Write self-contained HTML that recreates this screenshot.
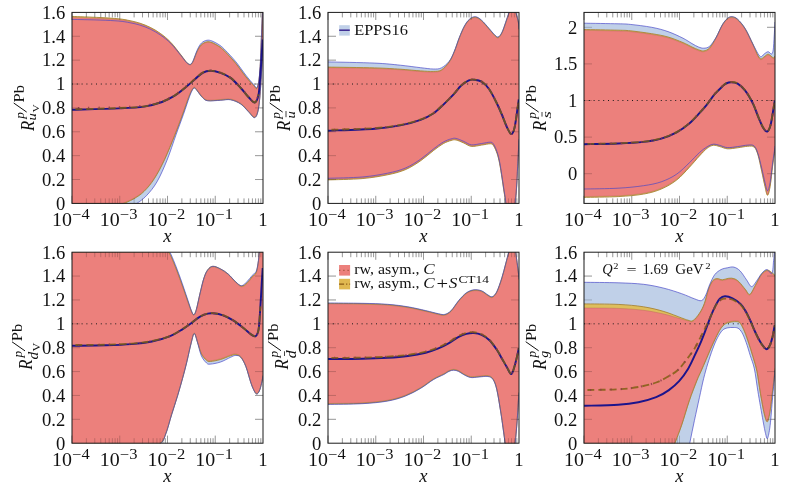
<!DOCTYPE html>
<html><head><meta charset="utf-8"><title>chart</title>
<style>
html,body{margin:0;padding:0;background:#fff;}
body{width:788px;height:488px;overflow:hidden;position:relative;font-family:"Liberation Serif",serif;}
svg text{font-family:"Liberation Serif",serif;fill:#111;}
.t{font-size:18.6px;}
.ti{font-size:18.6px;font-style:italic;}
.s{}
</style></head><body>
<svg width="788" height="488" viewBox="0 0 788 488" style="position:absolute;left:0;top:0;will-change:transform">
<defs>
<clipPath id="c0"><rect x="72.00" y="12.40" width="191.00" height="191.00"/></clipPath>
<clipPath id="c1"><rect x="328.00" y="12.40" width="191.00" height="191.00"/></clipPath>
<clipPath id="c2"><rect x="584.00" y="12.40" width="191.00" height="191.00"/></clipPath>
<clipPath id="c3"><rect x="72.00" y="252.20" width="191.00" height="191.00"/></clipPath>
<clipPath id="c4"><rect x="328.00" y="252.20" width="191.00" height="191.00"/></clipPath>
<clipPath id="c5"><rect x="584.00" y="252.20" width="191.00" height="191.00"/></clipPath>
</defs>
<rect width="788" height="488" fill="#fff"/>
<path d="M72.00 12.40v7.60 M72.00 203.40v-7.60 M86.37 12.40v5.00 M86.37 203.40v-5.00 M94.78 12.40v5.00 M94.78 203.40v-5.00 M100.75 12.40v5.00 M100.75 203.40v-5.00 M105.38 12.40v5.00 M105.38 203.40v-5.00 M109.16 12.40v5.00 M109.16 203.40v-5.00 M112.35 12.40v5.00 M112.35 203.40v-5.00 M115.12 12.40v5.00 M115.12 203.40v-5.00 M117.57 12.40v5.00 M117.57 203.40v-5.00 M119.75 12.40v7.60 M119.75 203.40v-7.60 M134.12 12.40v5.00 M134.12 203.40v-5.00 M142.53 12.40v5.00 M142.53 203.40v-5.00 M148.50 12.40v5.00 M148.50 203.40v-5.00 M153.13 12.40v5.00 M153.13 203.40v-5.00 M156.91 12.40v5.00 M156.91 203.40v-5.00 M160.10 12.40v5.00 M160.10 203.40v-5.00 M162.87 12.40v5.00 M162.87 203.40v-5.00 M165.32 12.40v5.00 M165.32 203.40v-5.00 M167.50 12.40v7.60 M167.50 203.40v-7.60 M181.87 12.40v5.00 M181.87 203.40v-5.00 M190.28 12.40v5.00 M190.28 203.40v-5.00 M196.25 12.40v5.00 M196.25 203.40v-5.00 M200.88 12.40v5.00 M200.88 203.40v-5.00 M204.66 12.40v5.00 M204.66 203.40v-5.00 M207.85 12.40v5.00 M207.85 203.40v-5.00 M210.62 12.40v5.00 M210.62 203.40v-5.00 M213.07 12.40v5.00 M213.07 203.40v-5.00 M215.25 12.40v7.60 M215.25 203.40v-7.60 M229.62 12.40v5.00 M229.62 203.40v-5.00 M238.03 12.40v5.00 M238.03 203.40v-5.00 M244.00 12.40v5.00 M244.00 203.40v-5.00 M248.63 12.40v5.00 M248.63 203.40v-5.00 M252.41 12.40v5.00 M252.41 203.40v-5.00 M255.60 12.40v5.00 M255.60 203.40v-5.00 M258.37 12.40v5.00 M258.37 203.40v-5.00 M260.82 12.40v5.00 M260.82 203.40v-5.00 M72.00 36.27h8 M263.00 36.27h-8 M72.00 60.15h8 M263.00 60.15h-8 M72.00 84.03h8 M263.00 84.03h-8 M72.00 107.90h8 M263.00 107.90h-8 M72.00 131.78h8 M263.00 131.78h-8 M72.00 155.65h8 M263.00 155.65h-8 M72.00 179.53h8 M263.00 179.53h-8" stroke="#000" stroke-opacity="0.36" stroke-width="0.7" fill="none"/>
<path d="M328.00 12.40v7.60 M328.00 203.40v-7.60 M342.37 12.40v5.00 M342.37 203.40v-5.00 M350.78 12.40v5.00 M350.78 203.40v-5.00 M356.75 12.40v5.00 M356.75 203.40v-5.00 M361.38 12.40v5.00 M361.38 203.40v-5.00 M365.16 12.40v5.00 M365.16 203.40v-5.00 M368.35 12.40v5.00 M368.35 203.40v-5.00 M371.12 12.40v5.00 M371.12 203.40v-5.00 M373.57 12.40v5.00 M373.57 203.40v-5.00 M375.75 12.40v7.60 M375.75 203.40v-7.60 M390.12 12.40v5.00 M390.12 203.40v-5.00 M398.53 12.40v5.00 M398.53 203.40v-5.00 M404.50 12.40v5.00 M404.50 203.40v-5.00 M409.13 12.40v5.00 M409.13 203.40v-5.00 M412.91 12.40v5.00 M412.91 203.40v-5.00 M416.10 12.40v5.00 M416.10 203.40v-5.00 M418.87 12.40v5.00 M418.87 203.40v-5.00 M421.32 12.40v5.00 M421.32 203.40v-5.00 M423.50 12.40v7.60 M423.50 203.40v-7.60 M437.87 12.40v5.00 M437.87 203.40v-5.00 M446.28 12.40v5.00 M446.28 203.40v-5.00 M452.25 12.40v5.00 M452.25 203.40v-5.00 M456.88 12.40v5.00 M456.88 203.40v-5.00 M460.66 12.40v5.00 M460.66 203.40v-5.00 M463.85 12.40v5.00 M463.85 203.40v-5.00 M466.62 12.40v5.00 M466.62 203.40v-5.00 M469.07 12.40v5.00 M469.07 203.40v-5.00 M471.25 12.40v7.60 M471.25 203.40v-7.60 M485.62 12.40v5.00 M485.62 203.40v-5.00 M494.03 12.40v5.00 M494.03 203.40v-5.00 M500.00 12.40v5.00 M500.00 203.40v-5.00 M504.63 12.40v5.00 M504.63 203.40v-5.00 M508.41 12.40v5.00 M508.41 203.40v-5.00 M511.60 12.40v5.00 M511.60 203.40v-5.00 M514.37 12.40v5.00 M514.37 203.40v-5.00 M516.82 12.40v5.00 M516.82 203.40v-5.00 M328.00 36.27h8 M519.00 36.27h-8 M328.00 60.15h8 M519.00 60.15h-8 M328.00 84.03h8 M519.00 84.03h-8 M328.00 107.90h8 M519.00 107.90h-8 M328.00 131.78h8 M519.00 131.78h-8 M328.00 155.65h8 M519.00 155.65h-8 M328.00 179.53h8 M519.00 179.53h-8" stroke="#000" stroke-opacity="0.36" stroke-width="0.7" fill="none"/>
<path d="M584.00 12.40v7.60 M584.00 203.40v-7.60 M598.37 12.40v5.00 M598.37 203.40v-5.00 M606.78 12.40v5.00 M606.78 203.40v-5.00 M612.75 12.40v5.00 M612.75 203.40v-5.00 M617.38 12.40v5.00 M617.38 203.40v-5.00 M621.16 12.40v5.00 M621.16 203.40v-5.00 M624.35 12.40v5.00 M624.35 203.40v-5.00 M627.12 12.40v5.00 M627.12 203.40v-5.00 M629.57 12.40v5.00 M629.57 203.40v-5.00 M631.75 12.40v7.60 M631.75 203.40v-7.60 M646.12 12.40v5.00 M646.12 203.40v-5.00 M654.53 12.40v5.00 M654.53 203.40v-5.00 M660.50 12.40v5.00 M660.50 203.40v-5.00 M665.13 12.40v5.00 M665.13 203.40v-5.00 M668.91 12.40v5.00 M668.91 203.40v-5.00 M672.10 12.40v5.00 M672.10 203.40v-5.00 M674.87 12.40v5.00 M674.87 203.40v-5.00 M677.32 12.40v5.00 M677.32 203.40v-5.00 M679.50 12.40v7.60 M679.50 203.40v-7.60 M693.87 12.40v5.00 M693.87 203.40v-5.00 M702.28 12.40v5.00 M702.28 203.40v-5.00 M708.25 12.40v5.00 M708.25 203.40v-5.00 M712.88 12.40v5.00 M712.88 203.40v-5.00 M716.66 12.40v5.00 M716.66 203.40v-5.00 M719.85 12.40v5.00 M719.85 203.40v-5.00 M722.62 12.40v5.00 M722.62 203.40v-5.00 M725.07 12.40v5.00 M725.07 203.40v-5.00 M727.25 12.40v7.60 M727.25 203.40v-7.60 M741.62 12.40v5.00 M741.62 203.40v-5.00 M750.03 12.40v5.00 M750.03 203.40v-5.00 M756.00 12.40v5.00 M756.00 203.40v-5.00 M760.63 12.40v5.00 M760.63 203.40v-5.00 M764.41 12.40v5.00 M764.41 203.40v-5.00 M767.60 12.40v5.00 M767.60 203.40v-5.00 M770.37 12.40v5.00 M770.37 203.40v-5.00 M772.82 12.40v5.00 M772.82 203.40v-5.00 M584.00 27.30h8 M775.00 27.30h-8 M584.00 63.90h8 M775.00 63.90h-8 M584.00 100.50h8 M775.00 100.50h-8 M584.00 137.10h8 M775.00 137.10h-8 M584.00 173.70h8 M775.00 173.70h-8" stroke="#000" stroke-opacity="0.36" stroke-width="0.7" fill="none"/>
<path d="M72.00 252.20v7.60 M72.00 443.20v-7.60 M86.37 252.20v5.00 M86.37 443.20v-5.00 M94.78 252.20v5.00 M94.78 443.20v-5.00 M100.75 252.20v5.00 M100.75 443.20v-5.00 M105.38 252.20v5.00 M105.38 443.20v-5.00 M109.16 252.20v5.00 M109.16 443.20v-5.00 M112.35 252.20v5.00 M112.35 443.20v-5.00 M115.12 252.20v5.00 M115.12 443.20v-5.00 M117.57 252.20v5.00 M117.57 443.20v-5.00 M119.75 252.20v7.60 M119.75 443.20v-7.60 M134.12 252.20v5.00 M134.12 443.20v-5.00 M142.53 252.20v5.00 M142.53 443.20v-5.00 M148.50 252.20v5.00 M148.50 443.20v-5.00 M153.13 252.20v5.00 M153.13 443.20v-5.00 M156.91 252.20v5.00 M156.91 443.20v-5.00 M160.10 252.20v5.00 M160.10 443.20v-5.00 M162.87 252.20v5.00 M162.87 443.20v-5.00 M165.32 252.20v5.00 M165.32 443.20v-5.00 M167.50 252.20v7.60 M167.50 443.20v-7.60 M181.87 252.20v5.00 M181.87 443.20v-5.00 M190.28 252.20v5.00 M190.28 443.20v-5.00 M196.25 252.20v5.00 M196.25 443.20v-5.00 M200.88 252.20v5.00 M200.88 443.20v-5.00 M204.66 252.20v5.00 M204.66 443.20v-5.00 M207.85 252.20v5.00 M207.85 443.20v-5.00 M210.62 252.20v5.00 M210.62 443.20v-5.00 M213.07 252.20v5.00 M213.07 443.20v-5.00 M215.25 252.20v7.60 M215.25 443.20v-7.60 M229.62 252.20v5.00 M229.62 443.20v-5.00 M238.03 252.20v5.00 M238.03 443.20v-5.00 M244.00 252.20v5.00 M244.00 443.20v-5.00 M248.63 252.20v5.00 M248.63 443.20v-5.00 M252.41 252.20v5.00 M252.41 443.20v-5.00 M255.60 252.20v5.00 M255.60 443.20v-5.00 M258.37 252.20v5.00 M258.37 443.20v-5.00 M260.82 252.20v5.00 M260.82 443.20v-5.00 M72.00 276.07h8 M263.00 276.07h-8 M72.00 299.95h8 M263.00 299.95h-8 M72.00 323.82h8 M263.00 323.82h-8 M72.00 347.70h8 M263.00 347.70h-8 M72.00 371.57h8 M263.00 371.57h-8 M72.00 395.45h8 M263.00 395.45h-8 M72.00 419.32h8 M263.00 419.32h-8" stroke="#000" stroke-opacity="0.36" stroke-width="0.7" fill="none"/>
<path d="M328.00 252.20v7.60 M328.00 443.20v-7.60 M342.37 252.20v5.00 M342.37 443.20v-5.00 M350.78 252.20v5.00 M350.78 443.20v-5.00 M356.75 252.20v5.00 M356.75 443.20v-5.00 M361.38 252.20v5.00 M361.38 443.20v-5.00 M365.16 252.20v5.00 M365.16 443.20v-5.00 M368.35 252.20v5.00 M368.35 443.20v-5.00 M371.12 252.20v5.00 M371.12 443.20v-5.00 M373.57 252.20v5.00 M373.57 443.20v-5.00 M375.75 252.20v7.60 M375.75 443.20v-7.60 M390.12 252.20v5.00 M390.12 443.20v-5.00 M398.53 252.20v5.00 M398.53 443.20v-5.00 M404.50 252.20v5.00 M404.50 443.20v-5.00 M409.13 252.20v5.00 M409.13 443.20v-5.00 M412.91 252.20v5.00 M412.91 443.20v-5.00 M416.10 252.20v5.00 M416.10 443.20v-5.00 M418.87 252.20v5.00 M418.87 443.20v-5.00 M421.32 252.20v5.00 M421.32 443.20v-5.00 M423.50 252.20v7.60 M423.50 443.20v-7.60 M437.87 252.20v5.00 M437.87 443.20v-5.00 M446.28 252.20v5.00 M446.28 443.20v-5.00 M452.25 252.20v5.00 M452.25 443.20v-5.00 M456.88 252.20v5.00 M456.88 443.20v-5.00 M460.66 252.20v5.00 M460.66 443.20v-5.00 M463.85 252.20v5.00 M463.85 443.20v-5.00 M466.62 252.20v5.00 M466.62 443.20v-5.00 M469.07 252.20v5.00 M469.07 443.20v-5.00 M471.25 252.20v7.60 M471.25 443.20v-7.60 M485.62 252.20v5.00 M485.62 443.20v-5.00 M494.03 252.20v5.00 M494.03 443.20v-5.00 M500.00 252.20v5.00 M500.00 443.20v-5.00 M504.63 252.20v5.00 M504.63 443.20v-5.00 M508.41 252.20v5.00 M508.41 443.20v-5.00 M511.60 252.20v5.00 M511.60 443.20v-5.00 M514.37 252.20v5.00 M514.37 443.20v-5.00 M516.82 252.20v5.00 M516.82 443.20v-5.00 M328.00 276.07h8 M519.00 276.07h-8 M328.00 299.95h8 M519.00 299.95h-8 M328.00 323.82h8 M519.00 323.82h-8 M328.00 347.70h8 M519.00 347.70h-8 M328.00 371.57h8 M519.00 371.57h-8 M328.00 395.45h8 M519.00 395.45h-8 M328.00 419.32h8 M519.00 419.32h-8" stroke="#000" stroke-opacity="0.36" stroke-width="0.7" fill="none"/>
<path d="M584.00 252.20v7.60 M584.00 443.20v-7.60 M598.37 252.20v5.00 M598.37 443.20v-5.00 M606.78 252.20v5.00 M606.78 443.20v-5.00 M612.75 252.20v5.00 M612.75 443.20v-5.00 M617.38 252.20v5.00 M617.38 443.20v-5.00 M621.16 252.20v5.00 M621.16 443.20v-5.00 M624.35 252.20v5.00 M624.35 443.20v-5.00 M627.12 252.20v5.00 M627.12 443.20v-5.00 M629.57 252.20v5.00 M629.57 443.20v-5.00 M631.75 252.20v7.60 M631.75 443.20v-7.60 M646.12 252.20v5.00 M646.12 443.20v-5.00 M654.53 252.20v5.00 M654.53 443.20v-5.00 M660.50 252.20v5.00 M660.50 443.20v-5.00 M665.13 252.20v5.00 M665.13 443.20v-5.00 M668.91 252.20v5.00 M668.91 443.20v-5.00 M672.10 252.20v5.00 M672.10 443.20v-5.00 M674.87 252.20v5.00 M674.87 443.20v-5.00 M677.32 252.20v5.00 M677.32 443.20v-5.00 M679.50 252.20v7.60 M679.50 443.20v-7.60 M693.87 252.20v5.00 M693.87 443.20v-5.00 M702.28 252.20v5.00 M702.28 443.20v-5.00 M708.25 252.20v5.00 M708.25 443.20v-5.00 M712.88 252.20v5.00 M712.88 443.20v-5.00 M716.66 252.20v5.00 M716.66 443.20v-5.00 M719.85 252.20v5.00 M719.85 443.20v-5.00 M722.62 252.20v5.00 M722.62 443.20v-5.00 M725.07 252.20v5.00 M725.07 443.20v-5.00 M727.25 252.20v7.60 M727.25 443.20v-7.60 M741.62 252.20v5.00 M741.62 443.20v-5.00 M750.03 252.20v5.00 M750.03 443.20v-5.00 M756.00 252.20v5.00 M756.00 443.20v-5.00 M760.63 252.20v5.00 M760.63 443.20v-5.00 M764.41 252.20v5.00 M764.41 443.20v-5.00 M767.60 252.20v5.00 M767.60 443.20v-5.00 M770.37 252.20v5.00 M770.37 443.20v-5.00 M772.82 252.20v5.00 M772.82 443.20v-5.00 M584.00 276.07h8 M775.00 276.07h-8 M584.00 299.95h8 M775.00 299.95h-8 M584.00 323.82h8 M775.00 323.82h-8 M584.00 347.70h8 M775.00 347.70h-8 M584.00 371.57h8 M775.00 371.57h-8 M584.00 395.45h8 M775.00 395.45h-8 M584.00 419.32h8 M775.00 419.32h-8" stroke="#000" stroke-opacity="0.36" stroke-width="0.7" fill="none"/>
<g clip-path="url(#c0)">
<path d="M72.00 19.40 C76.67 19.51 92.20 19.80 100.00 20.08 C107.80 20.36 113.80 20.63 118.80 21.07 C123.80 21.51 126.47 22.06 130.00 22.74 C133.53 23.42 136.63 24.07 140.00 25.13 C143.37 26.19 146.78 27.45 150.20 29.11 C153.62 30.77 157.08 32.70 160.50 35.08 C163.92 37.46 167.28 39.94 170.70 43.37 C174.12 46.80 178.43 52.54 181.00 55.66 C183.57 58.78 184.83 60.69 186.10 62.07 C187.37 63.46 187.88 63.60 188.60 63.99 C189.32 64.37 189.83 64.58 190.40 64.38 C190.97 64.18 191.47 63.60 192.00 62.80 C192.53 62.00 192.70 61.76 193.60 59.56 C194.50 57.36 196.08 52.35 197.40 49.59 C198.72 46.83 199.93 44.55 201.50 43.00 C203.07 41.45 205.05 40.63 206.80 40.30 C208.55 39.97 209.80 40.15 212.00 41.00 C214.20 41.85 217.75 43.83 220.00 45.40 C222.25 46.97 222.88 47.70 225.50 50.40 C228.12 53.10 232.30 57.45 235.70 61.60 C239.10 65.75 242.93 71.50 245.90 75.28 C248.87 79.06 251.60 82.32 253.50 84.27 C255.40 86.23 256.23 89.30 257.30 87.00 C258.37 84.70 259.18 79.60 259.90 70.50 C260.62 61.40 261.08 44.32 261.60 32.40 C262.12 20.48 262.77 4.57 263.00 -1.00 L263.00 40.80 C262.68 47.30 261.83 68.63 261.10 79.80 C260.37 90.97 259.65 101.50 258.60 107.80 C257.55 114.10 256.50 116.95 254.80 117.60 C253.10 118.25 250.73 113.95 248.40 111.70 C246.07 109.45 243.77 106.08 240.80 104.10 C237.83 102.12 233.98 100.43 230.60 99.80 C227.22 99.17 224.30 100.13 220.50 100.30 C216.70 100.47 210.77 101.22 207.80 100.80 C204.83 100.38 204.40 99.37 202.70 97.80 C201.00 96.23 198.72 92.82 197.60 91.40 C196.48 89.98 196.55 89.87 196.00 89.30 C195.45 88.73 194.88 87.92 194.30 88.00 C193.72 88.08 193.30 88.35 192.50 89.80 C191.70 91.25 191.02 92.58 189.50 96.70 C187.98 100.82 185.65 108.15 183.40 114.50 C181.15 120.85 178.73 127.18 176.00 134.80 C173.27 142.42 170.17 152.37 167.00 160.20 C163.83 168.03 160.45 175.87 157.00 181.80 C153.55 187.73 150.05 191.93 146.30 195.80 C142.55 199.67 140.55 200.97 134.50 205.00 C128.45 209.03 120.42 215.50 110.00 220.00 C99.58 224.50 78.33 230.00 72.00 232.00 Z" fill="#c0d0e8"/>
<path d="M72.00 16.40 C76.67 16.59 92.20 17.13 100.00 17.53 C107.80 17.93 113.80 18.30 118.80 18.82 C123.80 19.34 126.47 19.94 130.00 20.67 C133.53 21.41 136.63 22.10 140.00 23.22 C143.37 24.33 146.78 25.65 150.20 27.37 C153.62 29.08 157.08 31.03 160.50 33.51 C163.92 36.00 167.28 38.68 170.70 42.26 C174.12 45.85 178.43 51.77 181.00 55.01 C183.57 58.26 184.83 60.25 186.10 61.73 C187.37 63.22 187.88 63.48 188.60 63.95 C189.32 64.42 189.83 64.69 190.40 64.56 C190.97 64.42 191.47 63.89 192.00 63.16 C192.53 62.43 192.70 62.23 193.60 60.17 C194.50 58.11 196.08 53.38 197.40 50.79 C198.72 48.19 199.93 46.08 201.50 44.60 C203.07 43.12 205.05 42.23 206.80 41.90 C208.55 41.57 209.80 41.75 212.00 42.60 C214.20 43.45 217.75 45.43 220.00 47.00 C222.25 48.57 222.88 49.30 225.50 52.00 C228.12 54.70 232.30 59.07 235.70 63.20 C239.10 67.33 242.93 73.15 245.90 76.80 C248.87 80.45 251.60 83.30 253.50 85.10 C255.40 86.90 256.23 89.93 257.30 87.60 C258.37 85.27 259.18 80.20 259.90 71.10 C260.62 62.00 261.08 44.92 261.60 33.00 C262.12 21.08 262.77 5.17 263.00 -0.40 L263.00 40.60 C262.68 47.10 261.83 68.43 261.10 79.60 C260.37 90.77 259.65 101.30 258.60 107.60 C257.55 113.90 256.50 116.75 254.80 117.40 C253.10 118.05 250.73 113.75 248.40 111.50 C246.07 109.25 243.77 105.88 240.80 103.90 C237.83 101.92 233.98 100.23 230.60 99.60 C227.22 98.97 224.30 99.93 220.50 100.10 C216.70 100.27 210.77 101.02 207.80 100.60 C204.83 100.18 204.40 99.17 202.70 97.60 C201.00 96.03 198.72 92.62 197.60 91.20 C196.48 89.78 196.55 89.67 196.00 89.10 C195.45 88.53 194.97 87.63 194.30 87.80 C193.63 87.97 192.93 88.52 192.00 90.10 C191.07 91.68 190.30 93.13 188.70 97.30 C187.10 101.47 184.73 108.75 182.40 115.10 C180.07 121.45 177.67 127.98 174.70 135.40 C171.73 142.82 167.98 152.40 164.60 159.60 C161.22 166.80 157.80 173.32 154.40 178.60 C151.00 183.88 147.68 187.90 144.20 191.30 C140.72 194.70 137.62 196.68 133.50 199.00 C129.38 201.32 125.08 203.02 119.50 205.20 C113.92 207.38 107.92 210.20 100.00 212.10 C92.08 214.00 76.67 215.85 72.00 216.60 Z" fill="#debe5c"/>
<path d="M72.00 17.40 C76.67 17.57 92.20 18.03 100.00 18.40 C107.80 18.77 113.80 19.10 118.80 19.60 C123.80 20.10 126.47 20.68 130.00 21.40 C133.53 22.12 136.63 22.80 140.00 23.90 C143.37 25.00 146.78 26.30 150.20 28.00 C153.62 29.70 157.08 31.63 160.50 34.10 C163.92 36.57 167.28 39.23 170.70 42.80 C174.12 46.37 178.43 52.27 181.00 55.50 C183.57 58.73 184.83 60.72 186.10 62.20 C187.37 63.68 187.88 63.93 188.60 64.40 C189.32 64.87 189.83 65.13 190.40 65.00 C190.97 64.87 191.47 64.33 192.00 63.60 C192.53 62.87 192.70 62.67 193.60 60.60 C194.50 58.53 196.08 53.80 197.40 51.20 C198.72 48.60 199.93 46.48 201.50 45.00 C203.07 43.52 205.05 42.63 206.80 42.30 C208.55 41.97 209.80 42.15 212.00 43.00 C214.20 43.85 217.75 45.83 220.00 47.40 C222.25 48.97 222.88 49.70 225.50 52.40 C228.12 55.10 232.30 59.47 235.70 63.60 C239.10 67.73 242.93 73.55 245.90 77.20 C248.87 80.85 251.60 83.70 253.50 85.50 C255.40 87.30 256.23 90.33 257.30 88.00 C258.37 85.67 259.18 80.60 259.90 71.50 C260.62 62.40 261.08 45.32 261.60 33.40 C262.12 21.48 262.77 5.57 263.00 0.00 L263.00 40.00 C262.68 46.50 261.83 67.83 261.10 79.00 C260.37 90.17 259.65 100.70 258.60 107.00 C257.55 113.30 256.50 116.15 254.80 116.80 C253.10 117.45 250.73 113.15 248.40 110.90 C246.07 108.65 243.77 105.28 240.80 103.30 C237.83 101.32 233.98 99.63 230.60 99.00 C227.22 98.37 224.30 99.33 220.50 99.50 C216.70 99.67 210.77 100.42 207.80 100.00 C204.83 99.58 204.40 98.57 202.70 97.00 C201.00 95.43 198.72 92.02 197.60 90.60 C196.48 89.18 196.55 89.07 196.00 88.50 C195.45 87.93 194.97 87.03 194.30 87.20 C193.63 87.37 192.93 87.92 192.00 89.50 C191.07 91.08 190.30 92.53 188.70 96.70 C187.10 100.87 184.73 108.15 182.40 114.50 C180.07 120.85 177.67 127.38 174.70 134.80 C171.73 142.22 167.98 151.80 164.60 159.00 C161.22 166.20 157.80 172.72 154.40 178.00 C151.00 183.28 147.68 187.30 144.20 190.70 C140.72 194.10 137.62 196.08 133.50 198.40 C129.38 200.72 125.08 202.42 119.50 204.60 C113.92 206.78 107.92 209.60 100.00 211.50 C92.08 213.40 76.67 215.25 72.00 216.00 Z" fill="#ec807c"/>
<line x1="72.00" y1="84.03" x2="263.00" y2="84.03" stroke="#1a1a1a" stroke-width="1.0" stroke-dasharray="1.0 3.8"/>
<path d="M72.00 17.40 C76.67 17.57 92.20 18.03 100.00 18.40 C107.80 18.77 113.80 19.10 118.80 19.60 C123.80 20.10 126.47 20.68 130.00 21.40 C133.53 22.12 136.63 22.80 140.00 23.90 C143.37 25.00 146.78 26.30 150.20 28.00 C153.62 29.70 157.08 31.63 160.50 34.10 C163.92 36.57 167.28 39.23 170.70 42.80 C174.12 46.37 178.43 52.27 181.00 55.50 C183.57 58.73 184.83 60.72 186.10 62.20 C187.37 63.68 187.88 63.93 188.60 64.40 C189.32 64.87 189.83 65.13 190.40 65.00 C190.97 64.87 191.47 64.33 192.00 63.60 C192.53 62.87 192.70 62.67 193.60 60.60 C194.50 58.53 196.08 53.80 197.40 51.20 C198.72 48.60 199.93 46.48 201.50 45.00 C203.07 43.52 205.05 42.63 206.80 42.30 C208.55 41.97 209.80 42.15 212.00 43.00 C214.20 43.85 217.75 45.83 220.00 47.40 C222.25 48.97 222.88 49.70 225.50 52.40 C228.12 55.10 232.30 59.47 235.70 63.60 C239.10 67.73 242.93 73.55 245.90 77.20 C248.87 80.85 251.60 83.70 253.50 85.50 C255.40 87.30 256.23 90.33 257.30 88.00 C258.37 85.67 259.18 80.60 259.90 71.50 C260.62 62.40 261.08 45.32 261.60 33.40 C262.12 21.48 262.77 5.57 263.00 0.00" fill="none" stroke="#b8645c" stroke-width="0.60" stroke-opacity="0.70"/>
<path d="M72.00 216.00 C76.67 215.25 92.08 213.40 100.00 211.50 C107.92 209.60 113.92 206.78 119.50 204.60 C125.08 202.42 129.38 200.72 133.50 198.40 C137.62 196.08 140.72 194.10 144.20 190.70 C147.68 187.30 151.00 183.28 154.40 178.00 C157.80 172.72 161.22 166.20 164.60 159.00 C167.98 151.80 171.73 142.22 174.70 134.80 C177.67 127.38 180.07 120.85 182.40 114.50 C184.73 108.15 187.10 100.87 188.70 96.70 C190.30 92.53 191.07 91.08 192.00 89.50 C192.93 87.92 193.63 87.37 194.30 87.20 C194.97 87.03 195.45 87.93 196.00 88.50 C196.55 89.07 196.48 89.18 197.60 90.60 C198.72 92.02 201.00 95.43 202.70 97.00 C204.40 98.57 204.83 99.58 207.80 100.00 C210.77 100.42 216.70 99.67 220.50 99.50 C224.30 99.33 227.22 98.37 230.60 99.00 C233.98 99.63 237.83 101.32 240.80 103.30 C243.77 105.28 246.07 108.65 248.40 110.90 C250.73 113.15 253.10 117.45 254.80 116.80 C256.50 116.15 257.55 113.30 258.60 107.00 C259.65 100.70 260.37 90.17 261.10 79.00 C261.83 67.83 262.68 46.50 263.00 40.00" fill="none" stroke="#b8645c" stroke-width="0.60" stroke-opacity="0.70"/>
<path d="M72.00 16.40 C76.67 16.59 92.20 17.13 100.00 17.53 C107.80 17.93 113.80 18.30 118.80 18.82 C123.80 19.34 126.47 19.94 130.00 20.67 C133.53 21.41 136.63 22.10 140.00 23.22 C143.37 24.33 146.78 25.65 150.20 27.37 C153.62 29.08 157.08 31.03 160.50 33.51 C163.92 36.00 167.28 38.68 170.70 42.26 C174.12 45.85 178.43 51.77 181.00 55.01 C183.57 58.26 184.83 60.25 186.10 61.73 C187.37 63.22 187.88 63.48 188.60 63.95 C189.32 64.42 189.83 64.69 190.40 64.56 C190.97 64.42 191.47 63.89 192.00 63.16 C192.53 62.43 192.70 62.23 193.60 60.17 C194.50 58.11 196.08 53.38 197.40 50.79 C198.72 48.19 199.93 46.08 201.50 44.60 C203.07 43.12 205.05 42.23 206.80 41.90 C208.55 41.57 209.80 41.75 212.00 42.60 C214.20 43.45 217.75 45.43 220.00 47.00 C222.25 48.57 222.88 49.30 225.50 52.00 C228.12 54.70 232.30 59.07 235.70 63.20 C239.10 67.33 242.93 73.15 245.90 76.80 C248.87 80.45 251.60 83.30 253.50 85.10 C255.40 86.90 256.23 89.93 257.30 87.60 C258.37 85.27 259.18 80.20 259.90 71.10 C260.62 62.00 261.08 44.92 261.60 33.00 C262.12 21.08 262.77 5.17 263.00 -0.40" fill="none" stroke="#a88438" stroke-width="0.90" stroke-opacity="1.00"/>
<path d="M72.00 216.60 C76.67 215.85 92.08 214.00 100.00 212.10 C107.92 210.20 113.92 207.38 119.50 205.20 C125.08 203.02 129.38 201.32 133.50 199.00 C137.62 196.68 140.72 194.70 144.20 191.30 C147.68 187.90 151.00 183.88 154.40 178.60 C157.80 173.32 161.22 166.80 164.60 159.60 C167.98 152.40 171.73 142.82 174.70 135.40 C177.67 127.98 180.07 121.45 182.40 115.10 C184.73 108.75 187.10 101.47 188.70 97.30 C190.30 93.13 191.07 91.68 192.00 90.10 C192.93 88.52 193.63 87.97 194.30 87.80 C194.97 87.63 195.45 88.53 196.00 89.10 C196.55 89.67 196.48 89.78 197.60 91.20 C198.72 92.62 201.00 96.03 202.70 97.60 C204.40 99.17 204.83 100.18 207.80 100.60 C210.77 101.02 216.70 100.27 220.50 100.10 C224.30 99.93 227.22 98.97 230.60 99.60 C233.98 100.23 237.83 101.92 240.80 103.90 C243.77 105.88 246.07 109.25 248.40 111.50 C250.73 113.75 253.10 118.05 254.80 117.40 C256.50 116.75 257.55 113.90 258.60 107.60 C259.65 101.30 260.37 90.77 261.10 79.60 C261.83 68.43 262.68 47.10 263.00 40.60" fill="none" stroke="#a88438" stroke-width="0.90" stroke-opacity="1.00"/>
<path d="M72.00 19.40 C76.67 19.51 92.20 19.80 100.00 20.08 C107.80 20.36 113.80 20.63 118.80 21.07 C123.80 21.51 126.47 22.06 130.00 22.74 C133.53 23.42 136.63 24.07 140.00 25.13 C143.37 26.19 146.78 27.45 150.20 29.11 C153.62 30.77 157.08 32.70 160.50 35.08 C163.92 37.46 167.28 39.94 170.70 43.37 C174.12 46.80 178.43 52.54 181.00 55.66 C183.57 58.78 184.83 60.69 186.10 62.07 C187.37 63.46 187.88 63.60 188.60 63.99 C189.32 64.37 189.83 64.58 190.40 64.38 C190.97 64.18 191.47 63.60 192.00 62.80 C192.53 62.00 192.70 61.76 193.60 59.56 C194.50 57.36 196.08 52.35 197.40 49.59 C198.72 46.83 199.93 44.55 201.50 43.00 C203.07 41.45 205.05 40.63 206.80 40.30 C208.55 39.97 209.80 40.15 212.00 41.00 C214.20 41.85 217.75 43.83 220.00 45.40 C222.25 46.97 222.88 47.70 225.50 50.40 C228.12 53.10 232.30 57.45 235.70 61.60 C239.10 65.75 242.93 71.50 245.90 75.28 C248.87 79.06 251.60 82.32 253.50 84.27 C255.40 86.23 256.23 89.30 257.30 87.00 C258.37 84.70 259.18 79.60 259.90 70.50 C260.62 61.40 261.08 44.32 261.60 32.40 C262.12 20.48 262.77 4.57 263.00 -1.00" fill="none" stroke="#4646c8" stroke-width="0.80" stroke-opacity="0.85"/>
<path d="M72.00 232.00 C78.33 230.00 99.58 224.50 110.00 220.00 C120.42 215.50 128.45 209.03 134.50 205.00 C140.55 200.97 142.55 199.67 146.30 195.80 C150.05 191.93 153.55 187.73 157.00 181.80 C160.45 175.87 163.83 168.03 167.00 160.20 C170.17 152.37 173.27 142.42 176.00 134.80 C178.73 127.18 181.15 120.85 183.40 114.50 C185.65 108.15 187.98 100.82 189.50 96.70 C191.02 92.58 191.70 91.25 192.50 89.80 C193.30 88.35 193.72 88.08 194.30 88.00 C194.88 87.92 195.45 88.73 196.00 89.30 C196.55 89.87 196.48 89.98 197.60 91.40 C198.72 92.82 201.00 96.23 202.70 97.80 C204.40 99.37 204.83 100.38 207.80 100.80 C210.77 101.22 216.70 100.47 220.50 100.30 C224.30 100.13 227.22 99.17 230.60 99.80 C233.98 100.43 237.83 102.12 240.80 104.10 C243.77 106.08 246.07 109.45 248.40 111.70 C250.73 113.95 253.10 118.25 254.80 117.60 C256.50 116.95 257.55 114.10 258.60 107.80 C259.65 101.50 260.37 90.97 261.10 79.80 C261.83 68.63 262.68 47.30 263.00 40.80" fill="none" stroke="#4646c8" stroke-width="0.80" stroke-opacity="0.85"/>
<path d="M72.00 109.70 C79.80 109.48 106.77 108.92 118.80 108.40 C130.83 107.88 137.00 107.67 144.20 106.60 C151.40 105.53 156.92 103.82 162.00 102.00 C167.08 100.18 170.88 98.03 174.70 95.70 C178.52 93.37 181.52 90.75 184.90 88.00 C188.28 85.25 192.03 81.73 195.00 79.20 C197.97 76.67 200.15 74.20 202.70 72.80 C205.25 71.40 207.33 70.80 210.30 70.80 C213.27 70.80 217.12 71.62 220.50 72.80 C223.88 73.98 227.22 75.37 230.60 77.90 C233.98 80.43 237.83 84.82 240.80 88.00 C243.77 91.18 246.07 94.58 248.40 97.00 C250.73 99.42 253.10 102.93 254.80 102.50 C256.50 102.07 257.63 99.57 258.60 94.40 C259.57 89.23 260.05 78.57 260.60 71.50 C261.15 64.43 261.55 57.33 261.90 52.00 C262.25 46.67 262.57 41.58 262.70 39.50" fill="none" stroke="#1c148c" stroke-width="1.95"/>
<path d="M72.00 109.30 C79.80 109.10 106.77 108.58 118.80 108.08 C130.83 107.58 137.00 107.38 144.20 106.32 C151.40 105.27 156.92 103.56 162.00 101.75 C167.08 99.94 170.88 97.80 174.70 95.47 C178.52 93.15 181.52 90.53 184.90 87.79 C188.28 85.05 192.03 81.54 195.00 79.01 C197.97 76.49 200.15 74.03 202.70 72.63 C205.25 71.24 207.33 70.65 210.30 70.66 C213.27 70.66 217.12 71.49 220.50 72.68 C223.88 73.88 227.22 75.27 230.60 77.81 C233.98 80.35 237.83 84.75 240.80 87.94 C243.77 91.13 246.07 94.54 248.40 96.96 C250.73 99.38 253.10 102.91 254.80 102.48 C256.50 102.05 257.97 95.74 258.60 94.39" fill="none" stroke="#7c5e10" stroke-width="1.85" stroke-opacity="0.82" stroke-dasharray="7 4" stroke-dashoffset="-3.5"/>
<path d="M72.00 108.10 C79.80 107.94 106.77 107.57 118.80 107.15 C130.83 106.72 137.00 106.55 144.20 105.53 C151.40 104.52 156.92 102.85 162.00 101.07 C167.08 99.29 170.88 97.15 174.70 94.86 C178.52 92.57 181.52 90.02 184.90 87.35 C188.28 84.68 192.03 81.31 195.00 78.85 C197.97 76.39 200.15 73.98 202.70 72.61 C205.25 71.24 207.33 70.62 210.30 70.63 C213.27 70.64 217.12 71.47 220.50 72.67 C223.88 73.86 227.22 75.25 230.60 77.80 C233.98 80.34 237.83 84.74 240.80 87.93 C243.77 91.12 246.07 94.53 248.40 96.95 C250.73 99.38 253.10 102.90 254.80 102.47 C256.50 102.05 257.97 95.73 258.60 94.39" fill="none" stroke="#8a3848" stroke-width="2.0" stroke-opacity="0.8" stroke-dasharray="1.3 8.9" stroke-dashoffset="-6"/>
</g>
<path d="M72.00 12.40v7.60 M72.00 203.40v-7.60 M86.37 12.40v5.00 M86.37 203.40v-5.00 M94.78 12.40v5.00 M94.78 203.40v-5.00 M100.75 12.40v5.00 M100.75 203.40v-5.00 M105.38 12.40v5.00 M105.38 203.40v-5.00 M109.16 12.40v5.00 M109.16 203.40v-5.00 M112.35 12.40v5.00 M112.35 203.40v-5.00 M115.12 12.40v5.00 M115.12 203.40v-5.00 M117.57 12.40v5.00 M117.57 203.40v-5.00 M119.75 12.40v7.60 M119.75 203.40v-7.60 M134.12 12.40v5.00 M134.12 203.40v-5.00 M142.53 12.40v5.00 M142.53 203.40v-5.00 M148.50 12.40v5.00 M148.50 203.40v-5.00 M153.13 12.40v5.00 M153.13 203.40v-5.00 M156.91 12.40v5.00 M156.91 203.40v-5.00 M160.10 12.40v5.00 M160.10 203.40v-5.00 M162.87 12.40v5.00 M162.87 203.40v-5.00 M165.32 12.40v5.00 M165.32 203.40v-5.00 M167.50 12.40v7.60 M167.50 203.40v-7.60 M181.87 12.40v5.00 M181.87 203.40v-5.00 M190.28 12.40v5.00 M190.28 203.40v-5.00 M196.25 12.40v5.00 M196.25 203.40v-5.00 M200.88 12.40v5.00 M200.88 203.40v-5.00 M204.66 12.40v5.00 M204.66 203.40v-5.00 M207.85 12.40v5.00 M207.85 203.40v-5.00 M210.62 12.40v5.00 M210.62 203.40v-5.00 M213.07 12.40v5.00 M213.07 203.40v-5.00 M215.25 12.40v7.60 M215.25 203.40v-7.60 M229.62 12.40v5.00 M229.62 203.40v-5.00 M238.03 12.40v5.00 M238.03 203.40v-5.00 M244.00 12.40v5.00 M244.00 203.40v-5.00 M248.63 12.40v5.00 M248.63 203.40v-5.00 M252.41 12.40v5.00 M252.41 203.40v-5.00 M255.60 12.40v5.00 M255.60 203.40v-5.00 M258.37 12.40v5.00 M258.37 203.40v-5.00 M260.82 12.40v5.00 M260.82 203.40v-5.00 M72.00 36.27h8 M263.00 36.27h-8 M72.00 60.15h8 M263.00 60.15h-8 M72.00 84.03h8 M263.00 84.03h-8 M72.00 107.90h8 M263.00 107.90h-8 M72.00 131.78h8 M263.00 131.78h-8 M72.00 155.65h8 M263.00 155.65h-8 M72.00 179.53h8 M263.00 179.53h-8" stroke="#000" stroke-opacity="0.28" stroke-width="0.7" fill="none"/>
<rect x="72.00" y="12.40" width="191.00" height="191.00" fill="none" stroke="#1a1a1a" stroke-width="1"/>
<text x="65.20" y="18.70" text-anchor="end" class="t">1.6</text>
<text x="65.20" y="42.57" text-anchor="end" class="t">1.4</text>
<text x="65.20" y="66.45" text-anchor="end" class="t">1.2</text>
<text x="65.20" y="90.33" text-anchor="end" class="t">1</text>
<text x="65.20" y="114.20" text-anchor="end" class="t">0.8</text>
<text x="65.20" y="138.08" text-anchor="end" class="t">0.6</text>
<text x="65.20" y="161.95" text-anchor="end" class="t">0.4</text>
<text x="65.20" y="185.83" text-anchor="end" class="t">0.2</text>
<text x="65.20" y="209.70" text-anchor="end" class="t">0</text>
<text x="52.00" y="226.00" class="t" textLength="19.9" lengthAdjust="spacingAndGlyphs">10</text>
<text x="72.30" y="219.10" font-size="14" textLength="17.6" lengthAdjust="spacingAndGlyphs">−4</text>
<text x="99.75" y="226.00" class="t" textLength="19.9" lengthAdjust="spacingAndGlyphs">10</text>
<text x="120.05" y="219.10" font-size="14" textLength="17.6" lengthAdjust="spacingAndGlyphs">−3</text>
<text x="147.50" y="226.00" class="t" textLength="19.9" lengthAdjust="spacingAndGlyphs">10</text>
<text x="167.80" y="219.10" font-size="14" textLength="17.6" lengthAdjust="spacingAndGlyphs">−2</text>
<text x="195.25" y="226.00" class="t" textLength="19.9" lengthAdjust="spacingAndGlyphs">10</text>
<text x="215.55" y="219.10" font-size="14" textLength="17.6" lengthAdjust="spacingAndGlyphs">−1</text>
<text x="263.00" y="226.00" text-anchor="middle" class="t">1</text>
<text x="167.50" y="241.70" text-anchor="middle" class="ti">x</text>
<g transform="translate(33.50 131.00) rotate(-90)">
<text x="0" y="0" font-size="19.6" font-style="italic" textLength="10.2" lengthAdjust="spacingAndGlyphs">R</text>
<text x="12.2" y="-9.6" font-size="13.3" font-style="italic" textLength="6.6" lengthAdjust="spacingAndGlyphs">p</text>
<line x1="18.9" y1="-6.8" x2="28.0" y2="-19.8" stroke="#111" stroke-width="1.0"/>
<text x="28.6" y="-9.6" font-size="13.7" textLength="17.4" lengthAdjust="spacingAndGlyphs">Pb</text>
<text x="10.4" y="2.5" font-size="13.3" font-style="italic" textLength="7.4" lengthAdjust="spacingAndGlyphs">u</text>
<text x="18.4" y="5.2" font-size="8.8" textLength="8.2" lengthAdjust="spacingAndGlyphs">V</text>
</g>
<g clip-path="url(#c1)">
<path d="M328.00 61.90 C335.80 62.10 362.77 62.55 374.80 63.10 C386.83 63.65 392.57 64.43 400.20 65.20 C407.83 65.97 415.08 67.07 420.60 67.70 C426.12 68.33 429.85 68.97 433.30 69.00 C436.75 69.03 438.67 69.17 441.30 67.90 C443.93 66.63 446.95 64.13 449.10 61.40 C451.25 58.67 452.50 55.48 454.20 51.50 C455.90 47.52 457.60 41.75 459.30 37.50 C461.00 33.25 462.72 29.05 464.40 26.00 C466.08 22.95 467.57 20.75 469.40 19.20 C471.23 17.65 473.37 16.53 475.40 16.70 C477.43 16.87 479.30 18.22 481.60 20.20 C483.90 22.18 487.08 26.23 489.20 28.60 C491.32 30.97 492.82 33.00 494.30 34.40 C495.78 35.80 496.83 37.33 498.10 37.00 C499.37 36.67 500.63 34.87 501.90 32.40 C503.17 29.93 504.52 25.50 505.70 22.20 C506.88 18.90 507.87 15.47 509.00 12.60 C510.13 9.73 511.35 5.00 512.50 5.00 C513.65 5.00 514.92 9.77 515.90 12.60 C516.88 15.43 517.88 19.27 518.40 22.00 C518.92 24.73 518.90 27.83 519.00 29.00 L519.00 139.00 C518.77 143.62 517.97 159.37 517.60 166.70 C517.23 174.03 517.18 177.12 516.80 183.00 C516.42 188.88 516.18 193.50 515.30 202.00 C514.42 210.50 512.67 230.33 511.50 234.00 C510.33 237.67 509.25 229.33 508.30 224.00 C507.35 218.67 506.57 208.00 505.80 202.00 C505.03 196.00 504.33 192.25 503.70 188.00 C503.07 183.75 502.68 180.87 502.00 176.50 C501.32 172.13 500.42 165.88 499.60 161.80 C498.78 157.72 498.07 154.87 497.10 152.00 C496.13 149.13 494.88 146.23 493.80 144.60 C492.72 142.97 492.63 142.38 490.60 142.20 C488.57 142.02 484.80 143.07 481.60 143.50 C478.40 143.93 474.37 145.15 471.40 144.80 C468.43 144.45 466.35 142.47 463.80 141.40 C461.25 140.33 458.22 138.82 456.10 138.40 C453.98 137.98 453.22 138.30 451.10 138.90 C448.98 139.50 446.37 140.30 443.40 142.00 C440.43 143.70 437.10 146.23 433.30 149.10 C429.50 151.97 425.27 156.03 420.60 159.20 C415.93 162.37 410.82 165.77 405.30 168.10 C399.78 170.43 394.70 171.72 387.50 173.20 C380.30 174.68 372.02 176.15 362.10 177.00 C352.18 177.85 333.68 178.08 328.00 178.30 Z" fill="#c0d0e8"/>
<path d="M328.00 67.10 C335.80 67.23 362.77 67.55 374.80 67.90 C386.83 68.25 392.57 68.70 400.20 69.20 C407.83 69.70 415.08 70.53 420.60 70.90 C426.12 71.27 429.85 71.55 433.30 71.40 C436.75 71.25 438.67 71.57 441.30 70.00 C443.93 68.43 446.95 65.02 449.10 62.00 C451.25 58.98 452.50 55.92 454.20 51.90 C455.90 47.88 457.60 42.15 459.30 37.90 C461.00 33.65 462.72 29.45 464.40 26.40 C466.08 23.35 467.57 21.15 469.40 19.60 C471.23 18.05 473.37 16.93 475.40 17.10 C477.43 17.27 479.30 18.62 481.60 20.60 C483.90 22.58 487.08 26.63 489.20 29.00 C491.32 31.37 492.82 33.40 494.30 34.80 C495.78 36.20 496.83 37.73 498.10 37.40 C499.37 37.07 500.63 35.27 501.90 32.80 C503.17 30.33 504.52 25.90 505.70 22.60 C506.88 19.30 507.87 15.87 509.00 13.00 C510.13 10.13 511.35 5.40 512.50 5.40 C513.65 5.40 514.92 10.17 515.90 13.00 C516.88 15.83 517.88 19.67 518.40 22.40 C518.92 25.13 518.90 28.23 519.00 29.40 L519.00 140.60 C518.77 145.22 517.97 160.97 517.60 168.30 C517.23 175.63 517.18 178.72 516.80 184.60 C516.42 190.48 516.18 195.10 515.30 203.60 C514.42 212.10 512.67 231.93 511.50 235.60 C510.33 239.27 509.25 230.93 508.30 225.60 C507.35 220.27 506.57 209.60 505.80 203.60 C505.03 197.60 504.33 193.85 503.70 189.60 C503.07 185.35 502.68 182.47 502.00 178.10 C501.32 173.73 500.42 167.48 499.60 163.40 C498.78 159.32 498.07 156.47 497.10 153.60 C496.13 150.73 494.88 147.83 493.80 146.20 C492.72 144.57 492.63 143.98 490.60 143.80 C488.57 143.62 484.80 144.67 481.60 145.10 C478.40 145.53 474.37 146.75 471.40 146.40 C468.43 146.05 466.35 144.07 463.80 143.00 C461.25 141.93 458.22 140.42 456.10 140.00 C453.98 139.58 453.22 139.90 451.10 140.50 C448.98 141.10 446.37 141.90 443.40 143.60 C440.43 145.30 437.10 147.83 433.30 150.70 C429.50 153.57 425.27 157.63 420.60 160.80 C415.93 163.97 410.82 167.37 405.30 169.70 C399.78 172.03 394.70 173.32 387.50 174.80 C380.30 176.28 372.02 177.75 362.10 178.60 C352.18 179.45 333.68 179.68 328.00 179.90 Z" fill="#debe5c"/>
<path d="M328.00 67.70 C335.80 67.83 362.77 68.15 374.80 68.50 C386.83 68.85 392.57 69.30 400.20 69.80 C407.83 70.30 415.08 71.13 420.60 71.50 C426.12 71.87 429.85 72.15 433.30 72.00 C436.75 71.85 438.67 72.17 441.30 70.60 C443.93 69.03 446.95 65.62 449.10 62.60 C451.25 59.58 452.50 56.52 454.20 52.50 C455.90 48.48 457.60 42.75 459.30 38.50 C461.00 34.25 462.72 30.05 464.40 27.00 C466.08 23.95 467.57 21.75 469.40 20.20 C471.23 18.65 473.37 17.53 475.40 17.70 C477.43 17.87 479.30 19.22 481.60 21.20 C483.90 23.18 487.08 27.23 489.20 29.60 C491.32 31.97 492.82 34.00 494.30 35.40 C495.78 36.80 496.83 38.33 498.10 38.00 C499.37 37.67 500.63 35.87 501.90 33.40 C503.17 30.93 504.52 26.50 505.70 23.20 C506.88 19.90 507.87 16.47 509.00 13.60 C510.13 10.73 511.35 6.00 512.50 6.00 C513.65 6.00 514.92 10.77 515.90 13.60 C516.88 16.43 517.88 20.27 518.40 23.00 C518.92 25.73 518.90 28.83 519.00 30.00 L519.00 140.00 C518.77 144.62 517.97 160.37 517.60 167.70 C517.23 175.03 517.18 178.12 516.80 184.00 C516.42 189.88 516.18 194.50 515.30 203.00 C514.42 211.50 512.67 231.33 511.50 235.00 C510.33 238.67 509.25 230.33 508.30 225.00 C507.35 219.67 506.57 209.00 505.80 203.00 C505.03 197.00 504.33 193.25 503.70 189.00 C503.07 184.75 502.68 181.87 502.00 177.50 C501.32 173.13 500.42 166.88 499.60 162.80 C498.78 158.72 498.07 155.87 497.10 153.00 C496.13 150.13 494.88 147.23 493.80 145.60 C492.72 143.97 492.63 143.38 490.60 143.20 C488.57 143.02 484.80 144.07 481.60 144.50 C478.40 144.93 474.37 146.15 471.40 145.80 C468.43 145.45 466.35 143.47 463.80 142.40 C461.25 141.33 458.22 139.82 456.10 139.40 C453.98 138.98 453.22 139.30 451.10 139.90 C448.98 140.50 446.37 141.30 443.40 143.00 C440.43 144.70 437.10 147.23 433.30 150.10 C429.50 152.97 425.27 157.03 420.60 160.20 C415.93 163.37 410.82 166.77 405.30 169.10 C399.78 171.43 394.70 172.72 387.50 174.20 C380.30 175.68 372.02 177.15 362.10 178.00 C352.18 178.85 333.68 179.08 328.00 179.30 Z" fill="#ec807c"/>
<line x1="328.00" y1="84.03" x2="519.00" y2="84.03" stroke="#1a1a1a" stroke-width="1.0" stroke-dasharray="1.0 3.8"/>
<path d="M328.00 67.70 C335.80 67.83 362.77 68.15 374.80 68.50 C386.83 68.85 392.57 69.30 400.20 69.80 C407.83 70.30 415.08 71.13 420.60 71.50 C426.12 71.87 429.85 72.15 433.30 72.00 C436.75 71.85 438.67 72.17 441.30 70.60 C443.93 69.03 446.95 65.62 449.10 62.60 C451.25 59.58 452.50 56.52 454.20 52.50 C455.90 48.48 457.60 42.75 459.30 38.50 C461.00 34.25 462.72 30.05 464.40 27.00 C466.08 23.95 467.57 21.75 469.40 20.20 C471.23 18.65 473.37 17.53 475.40 17.70 C477.43 17.87 479.30 19.22 481.60 21.20 C483.90 23.18 487.08 27.23 489.20 29.60 C491.32 31.97 492.82 34.00 494.30 35.40 C495.78 36.80 496.83 38.33 498.10 38.00 C499.37 37.67 500.63 35.87 501.90 33.40 C503.17 30.93 504.52 26.50 505.70 23.20 C506.88 19.90 507.87 16.47 509.00 13.60 C510.13 10.73 511.35 6.00 512.50 6.00 C513.65 6.00 514.92 10.77 515.90 13.60 C516.88 16.43 517.88 20.27 518.40 23.00 C518.92 25.73 518.90 28.83 519.00 30.00" fill="none" stroke="#b8645c" stroke-width="0.60" stroke-opacity="0.70"/>
<path d="M328.00 179.30 C333.68 179.08 352.18 178.85 362.10 178.00 C372.02 177.15 380.30 175.68 387.50 174.20 C394.70 172.72 399.78 171.43 405.30 169.10 C410.82 166.77 415.93 163.37 420.60 160.20 C425.27 157.03 429.50 152.97 433.30 150.10 C437.10 147.23 440.43 144.70 443.40 143.00 C446.37 141.30 448.98 140.50 451.10 139.90 C453.22 139.30 453.98 138.98 456.10 139.40 C458.22 139.82 461.25 141.33 463.80 142.40 C466.35 143.47 468.43 145.45 471.40 145.80 C474.37 146.15 478.40 144.93 481.60 144.50 C484.80 144.07 488.57 143.02 490.60 143.20 C492.63 143.38 492.72 143.97 493.80 145.60 C494.88 147.23 496.13 150.13 497.10 153.00 C498.07 155.87 498.78 158.72 499.60 162.80 C500.42 166.88 501.32 173.13 502.00 177.50 C502.68 181.87 503.07 184.75 503.70 189.00 C504.33 193.25 505.03 197.00 505.80 203.00 C506.57 209.00 507.35 219.67 508.30 225.00 C509.25 230.33 510.33 238.67 511.50 235.00 C512.67 231.33 514.42 211.50 515.30 203.00 C516.18 194.50 516.42 189.88 516.80 184.00 C517.18 178.12 517.23 175.03 517.60 167.70 C517.97 160.37 518.77 144.62 519.00 140.00" fill="none" stroke="#b8645c" stroke-width="0.60" stroke-opacity="0.70"/>
<path d="M328.00 67.10 C335.80 67.23 362.77 67.55 374.80 67.90 C386.83 68.25 392.57 68.70 400.20 69.20 C407.83 69.70 415.08 70.53 420.60 70.90 C426.12 71.27 429.85 71.55 433.30 71.40 C436.75 71.25 438.67 71.57 441.30 70.00 C443.93 68.43 446.95 65.02 449.10 62.00 C451.25 58.98 452.50 55.92 454.20 51.90 C455.90 47.88 457.60 42.15 459.30 37.90 C461.00 33.65 462.72 29.45 464.40 26.40 C466.08 23.35 467.57 21.15 469.40 19.60 C471.23 18.05 473.37 16.93 475.40 17.10 C477.43 17.27 479.30 18.62 481.60 20.60 C483.90 22.58 487.08 26.63 489.20 29.00 C491.32 31.37 492.82 33.40 494.30 34.80 C495.78 36.20 496.83 37.73 498.10 37.40 C499.37 37.07 500.63 35.27 501.90 32.80 C503.17 30.33 504.52 25.90 505.70 22.60 C506.88 19.30 507.87 15.87 509.00 13.00 C510.13 10.13 511.35 5.40 512.50 5.40 C513.65 5.40 514.92 10.17 515.90 13.00 C516.88 15.83 517.88 19.67 518.40 22.40 C518.92 25.13 518.90 28.23 519.00 29.40" fill="none" stroke="#a88438" stroke-width="0.90" stroke-opacity="1.00"/>
<path d="M328.00 179.90 C333.68 179.68 352.18 179.45 362.10 178.60 C372.02 177.75 380.30 176.28 387.50 174.80 C394.70 173.32 399.78 172.03 405.30 169.70 C410.82 167.37 415.93 163.97 420.60 160.80 C425.27 157.63 429.50 153.57 433.30 150.70 C437.10 147.83 440.43 145.30 443.40 143.60 C446.37 141.90 448.98 141.10 451.10 140.50 C453.22 139.90 453.98 139.58 456.10 140.00 C458.22 140.42 461.25 141.93 463.80 143.00 C466.35 144.07 468.43 146.05 471.40 146.40 C474.37 146.75 478.40 145.53 481.60 145.10 C484.80 144.67 488.57 143.62 490.60 143.80 C492.63 143.98 492.72 144.57 493.80 146.20 C494.88 147.83 496.13 150.73 497.10 153.60 C498.07 156.47 498.78 159.32 499.60 163.40 C500.42 167.48 501.32 173.73 502.00 178.10 C502.68 182.47 503.07 185.35 503.70 189.60 C504.33 193.85 505.03 197.60 505.80 203.60 C506.57 209.60 507.35 220.27 508.30 225.60 C509.25 230.93 510.33 239.27 511.50 235.60 C512.67 231.93 514.42 212.10 515.30 203.60 C516.18 195.10 516.42 190.48 516.80 184.60 C517.18 178.72 517.23 175.63 517.60 168.30 C517.97 160.97 518.77 145.22 519.00 140.60" fill="none" stroke="#a88438" stroke-width="0.90" stroke-opacity="1.00"/>
<path d="M328.00 61.90 C335.80 62.10 362.77 62.55 374.80 63.10 C386.83 63.65 392.57 64.43 400.20 65.20 C407.83 65.97 415.08 67.07 420.60 67.70 C426.12 68.33 429.85 68.97 433.30 69.00 C436.75 69.03 438.67 69.17 441.30 67.90 C443.93 66.63 446.95 64.13 449.10 61.40 C451.25 58.67 452.50 55.48 454.20 51.50 C455.90 47.52 457.60 41.75 459.30 37.50 C461.00 33.25 462.72 29.05 464.40 26.00 C466.08 22.95 467.57 20.75 469.40 19.20 C471.23 17.65 473.37 16.53 475.40 16.70 C477.43 16.87 479.30 18.22 481.60 20.20 C483.90 22.18 487.08 26.23 489.20 28.60 C491.32 30.97 492.82 33.00 494.30 34.40 C495.78 35.80 496.83 37.33 498.10 37.00 C499.37 36.67 500.63 34.87 501.90 32.40 C503.17 29.93 504.52 25.50 505.70 22.20 C506.88 18.90 507.87 15.47 509.00 12.60 C510.13 9.73 511.35 5.00 512.50 5.00 C513.65 5.00 514.92 9.77 515.90 12.60 C516.88 15.43 517.88 19.27 518.40 22.00 C518.92 24.73 518.90 27.83 519.00 29.00" fill="none" stroke="#4646c8" stroke-width="0.80" stroke-opacity="0.85"/>
<path d="M328.00 178.30 C333.68 178.08 352.18 177.85 362.10 177.00 C372.02 176.15 380.30 174.68 387.50 173.20 C394.70 171.72 399.78 170.43 405.30 168.10 C410.82 165.77 415.93 162.37 420.60 159.20 C425.27 156.03 429.50 151.97 433.30 149.10 C437.10 146.23 440.43 143.70 443.40 142.00 C446.37 140.30 448.98 139.50 451.10 138.90 C453.22 138.30 453.98 137.98 456.10 138.40 C458.22 138.82 461.25 140.33 463.80 141.40 C466.35 142.47 468.43 144.45 471.40 144.80 C474.37 145.15 478.40 143.93 481.60 143.50 C484.80 143.07 488.57 142.02 490.60 142.20 C492.63 142.38 492.72 142.97 493.80 144.60 C494.88 146.23 496.13 149.13 497.10 152.00 C498.07 154.87 498.78 157.72 499.60 161.80 C500.42 165.88 501.32 172.13 502.00 176.50 C502.68 180.87 503.07 183.75 503.70 188.00 C504.33 192.25 505.03 196.00 505.80 202.00 C506.57 208.00 507.35 218.67 508.30 224.00 C509.25 229.33 510.33 237.67 511.50 234.00 C512.67 230.33 514.42 210.50 515.30 202.00 C516.18 193.50 516.42 188.88 516.80 183.00 C517.18 177.12 517.23 174.03 517.60 166.70 C517.97 159.37 518.77 143.62 519.00 139.00" fill="none" stroke="#4646c8" stroke-width="0.80" stroke-opacity="0.85"/>
<path d="M328.00 130.70 C335.80 130.37 362.77 129.58 374.80 128.70 C386.83 127.82 392.57 126.88 400.20 125.40 C407.83 123.92 415.08 121.78 420.60 119.80 C426.12 117.82 429.50 116.03 433.30 113.50 C437.10 110.97 440.02 107.78 443.40 104.60 C446.78 101.42 450.63 97.58 453.60 94.40 C456.57 91.22 458.65 87.83 461.20 85.50 C463.75 83.17 466.78 81.37 468.90 80.40 C471.02 79.43 471.78 79.48 473.90 79.70 C476.02 79.92 479.05 80.10 481.60 81.70 C484.15 83.30 486.67 85.70 489.20 89.30 C491.73 92.90 494.68 99.07 496.80 103.30 C498.92 107.53 500.20 110.68 501.90 114.70 C503.60 118.72 505.43 124.17 507.00 127.40 C508.57 130.63 510.03 134.10 511.30 134.10 C512.57 134.10 513.55 131.75 514.60 127.40 C515.65 123.05 516.90 112.65 517.60 108.00 C518.30 103.35 518.60 100.92 518.80 99.50" fill="none" stroke="#1c148c" stroke-width="1.95"/>
<path d="M328.00 129.90 C335.80 129.61 362.77 128.95 374.80 128.13 C386.83 127.31 392.57 126.40 400.20 124.96 C407.83 123.51 415.08 121.41 420.60 119.46 C426.12 117.50 429.50 115.73 433.30 113.22 C437.10 110.70 440.02 107.54 443.40 104.37 C446.78 101.20 450.63 97.38 453.60 94.21 C456.57 91.04 458.65 87.66 461.20 85.33 C463.75 83.01 466.78 81.22 468.90 80.25 C471.02 79.29 471.78 79.35 473.90 79.57 C476.02 79.79 479.05 79.98 481.60 81.59 C484.15 83.20 486.67 85.61 489.20 89.21 C491.73 92.82 494.68 99.00 496.80 103.24 C498.92 107.48 500.20 110.63 501.90 114.65 C503.60 118.67 505.43 124.13 507.00 127.37 C508.57 130.60 510.03 134.07 511.30 134.08 C512.57 134.08 513.55 131.73 514.60 127.39 C515.65 123.04 516.90 112.64 517.60 108.00 C518.30 103.35 518.60 100.92 518.80 99.50" fill="none" stroke="#7c5e10" stroke-width="1.85" stroke-opacity="0.82" stroke-dasharray="7 4" stroke-dashoffset="-3.5"/>
<path d="M328.00 129.90 C335.80 129.61 362.77 128.95 374.80 128.13 C386.83 127.31 392.57 126.40 400.20 124.96 C407.83 123.51 415.08 121.41 420.60 119.46 C426.12 117.50 429.50 115.73 433.30 113.22 C437.10 110.70 440.02 107.54 443.40 104.37 C446.78 101.20 450.63 97.38 453.60 94.21 C456.57 91.04 458.65 87.66 461.20 85.33 C463.75 83.01 466.78 81.22 468.90 80.25 C471.02 79.29 471.78 79.35 473.90 79.57 C476.02 79.79 479.05 79.98 481.60 81.59 C484.15 83.20 486.67 85.61 489.20 89.21 C491.73 92.82 494.68 99.00 496.80 103.24 C498.92 107.48 500.20 110.63 501.90 114.65 C503.60 118.67 505.43 124.13 507.00 127.37 C508.57 130.60 510.03 134.07 511.30 134.08 C512.57 134.08 513.55 131.73 514.60 127.39 C515.65 123.04 516.90 112.64 517.60 108.00 C518.30 103.35 518.60 100.92 518.80 99.50" fill="none" stroke="#8a3848" stroke-width="2.0" stroke-opacity="0.8" stroke-dasharray="1.3 8.9" stroke-dashoffset="-6"/>
</g>
<path d="M328.00 12.40v7.60 M328.00 203.40v-7.60 M342.37 12.40v5.00 M342.37 203.40v-5.00 M350.78 12.40v5.00 M350.78 203.40v-5.00 M356.75 12.40v5.00 M356.75 203.40v-5.00 M361.38 12.40v5.00 M361.38 203.40v-5.00 M365.16 12.40v5.00 M365.16 203.40v-5.00 M368.35 12.40v5.00 M368.35 203.40v-5.00 M371.12 12.40v5.00 M371.12 203.40v-5.00 M373.57 12.40v5.00 M373.57 203.40v-5.00 M375.75 12.40v7.60 M375.75 203.40v-7.60 M390.12 12.40v5.00 M390.12 203.40v-5.00 M398.53 12.40v5.00 M398.53 203.40v-5.00 M404.50 12.40v5.00 M404.50 203.40v-5.00 M409.13 12.40v5.00 M409.13 203.40v-5.00 M412.91 12.40v5.00 M412.91 203.40v-5.00 M416.10 12.40v5.00 M416.10 203.40v-5.00 M418.87 12.40v5.00 M418.87 203.40v-5.00 M421.32 12.40v5.00 M421.32 203.40v-5.00 M423.50 12.40v7.60 M423.50 203.40v-7.60 M437.87 12.40v5.00 M437.87 203.40v-5.00 M446.28 12.40v5.00 M446.28 203.40v-5.00 M452.25 12.40v5.00 M452.25 203.40v-5.00 M456.88 12.40v5.00 M456.88 203.40v-5.00 M460.66 12.40v5.00 M460.66 203.40v-5.00 M463.85 12.40v5.00 M463.85 203.40v-5.00 M466.62 12.40v5.00 M466.62 203.40v-5.00 M469.07 12.40v5.00 M469.07 203.40v-5.00 M471.25 12.40v7.60 M471.25 203.40v-7.60 M485.62 12.40v5.00 M485.62 203.40v-5.00 M494.03 12.40v5.00 M494.03 203.40v-5.00 M500.00 12.40v5.00 M500.00 203.40v-5.00 M504.63 12.40v5.00 M504.63 203.40v-5.00 M508.41 12.40v5.00 M508.41 203.40v-5.00 M511.60 12.40v5.00 M511.60 203.40v-5.00 M514.37 12.40v5.00 M514.37 203.40v-5.00 M516.82 12.40v5.00 M516.82 203.40v-5.00 M328.00 36.27h8 M519.00 36.27h-8 M328.00 60.15h8 M519.00 60.15h-8 M328.00 84.03h8 M519.00 84.03h-8 M328.00 107.90h8 M519.00 107.90h-8 M328.00 131.78h8 M519.00 131.78h-8 M328.00 155.65h8 M519.00 155.65h-8 M328.00 179.53h8 M519.00 179.53h-8" stroke="#000" stroke-opacity="0.28" stroke-width="0.7" fill="none"/>
<rect x="328.00" y="12.40" width="191.00" height="191.00" fill="none" stroke="#1a1a1a" stroke-width="1"/>
<text x="321.20" y="18.70" text-anchor="end" class="t">1.6</text>
<text x="321.20" y="42.57" text-anchor="end" class="t">1.4</text>
<text x="321.20" y="66.45" text-anchor="end" class="t">1.2</text>
<text x="321.20" y="90.33" text-anchor="end" class="t">1</text>
<text x="321.20" y="114.20" text-anchor="end" class="t">0.8</text>
<text x="321.20" y="138.08" text-anchor="end" class="t">0.6</text>
<text x="321.20" y="161.95" text-anchor="end" class="t">0.4</text>
<text x="321.20" y="185.83" text-anchor="end" class="t">0.2</text>
<text x="321.20" y="209.70" text-anchor="end" class="t">0</text>
<text x="308.00" y="226.00" class="t" textLength="19.9" lengthAdjust="spacingAndGlyphs">10</text>
<text x="328.30" y="219.10" font-size="14" textLength="17.6" lengthAdjust="spacingAndGlyphs">−4</text>
<text x="355.75" y="226.00" class="t" textLength="19.9" lengthAdjust="spacingAndGlyphs">10</text>
<text x="376.05" y="219.10" font-size="14" textLength="17.6" lengthAdjust="spacingAndGlyphs">−3</text>
<text x="403.50" y="226.00" class="t" textLength="19.9" lengthAdjust="spacingAndGlyphs">10</text>
<text x="423.80" y="219.10" font-size="14" textLength="17.6" lengthAdjust="spacingAndGlyphs">−2</text>
<text x="451.25" y="226.00" class="t" textLength="19.9" lengthAdjust="spacingAndGlyphs">10</text>
<text x="471.55" y="219.10" font-size="14" textLength="17.6" lengthAdjust="spacingAndGlyphs">−1</text>
<text x="519.00" y="226.00" text-anchor="middle" class="t">1</text>
<text x="423.50" y="241.70" text-anchor="middle" class="ti">x</text>
<g transform="translate(289.50 131.00) rotate(-90)">
<text x="0" y="0" font-size="19.6" font-style="italic" textLength="10.2" lengthAdjust="spacingAndGlyphs">R</text>
<text x="12.2" y="-9.6" font-size="13.3" font-style="italic" textLength="6.6" lengthAdjust="spacingAndGlyphs">p</text>
<line x1="18.9" y1="-6.8" x2="28.0" y2="-19.8" stroke="#111" stroke-width="1.0"/>
<text x="28.6" y="-9.6" font-size="13.7" textLength="17.4" lengthAdjust="spacingAndGlyphs">Pb</text>
<text x="12.6" y="5.7" font-size="13.3" font-style="italic" textLength="7.4" lengthAdjust="spacingAndGlyphs">u</text>
<line x1="13.8" y1="-3.5" x2="20.0" y2="-3.5" stroke="#111" stroke-width="0.8"/>
</g>
<g clip-path="url(#c2)">
<path d="M584.00 23.20 C589.68 23.30 610.40 23.60 618.10 23.80 C625.80 24.00 624.60 23.82 630.20 24.40 C635.80 24.98 645.40 26.10 651.70 27.30 C658.00 28.50 662.78 29.78 668.00 31.60 C673.22 33.42 679.00 36.20 683.00 38.20 C687.00 40.20 689.42 42.13 692.00 43.60 C694.58 45.07 696.53 46.23 698.50 47.00 C700.47 47.77 701.95 48.32 703.80 48.20 C705.65 48.08 707.57 48.08 709.60 46.30 C711.63 44.52 713.88 41.08 716.00 37.50 C718.12 33.92 720.40 27.98 722.30 24.80 C724.20 21.62 725.78 19.75 727.40 18.40 C729.02 17.05 730.30 16.57 732.00 16.70 C733.70 16.83 735.40 17.22 737.60 19.20 C739.80 21.18 742.67 24.50 745.20 28.60 C747.73 32.70 750.68 39.65 752.80 43.80 C754.92 47.95 756.55 51.33 757.90 53.50 C759.25 55.67 759.85 56.72 760.90 56.80 C761.95 56.88 763.00 54.85 764.20 54.00 C765.40 53.15 766.88 51.70 768.10 51.70 C769.32 51.70 770.65 54.28 771.50 54.00 C772.35 53.72 772.75 53.00 773.20 50.00 C773.65 47.00 773.90 40.67 774.20 36.00 C774.50 31.33 774.87 24.33 775.00 22.00 L775.00 146.00 C774.90 146.83 774.80 148.17 774.40 151.00 C774.00 153.83 773.32 157.75 772.60 163.00 C771.88 168.25 770.95 177.88 770.10 182.50 C769.25 187.12 768.35 190.70 767.50 190.70 C766.65 190.70 765.97 186.28 765.00 182.50 C764.03 178.72 762.88 172.83 761.70 168.00 C760.52 163.17 759.17 157.18 757.90 153.50 C756.63 149.82 755.80 147.30 754.10 145.90 C752.40 144.50 750.45 144.98 747.70 145.10 C744.95 145.22 740.98 146.18 737.60 146.60 C734.22 147.02 730.37 147.80 727.40 147.60 C724.43 147.40 722.13 145.97 719.80 145.40 C717.47 144.83 715.52 143.97 713.40 144.20 C711.28 144.43 709.43 145.40 707.10 146.80 C704.77 148.20 702.37 149.93 699.40 152.60 C696.43 155.27 693.10 159.20 689.30 162.80 C685.50 166.40 681.27 171.03 676.60 174.20 C671.93 177.37 666.82 179.88 661.30 181.80 C655.78 183.72 650.70 184.63 643.50 185.70 C636.30 186.77 628.02 187.65 618.10 188.20 C608.18 188.75 589.68 188.87 584.00 189.00 Z" fill="#c0d0e8"/>
<path d="M584.00 29.50 C589.68 29.62 610.40 29.98 618.10 30.20 C625.80 30.42 624.60 30.22 630.20 30.80 C635.80 31.38 645.40 32.67 651.70 33.70 C658.00 34.73 662.78 35.52 668.00 37.00 C673.22 38.48 679.00 40.93 683.00 42.60 C687.00 44.27 689.42 45.80 692.00 47.00 C694.58 48.20 696.53 49.15 698.50 49.80 C700.47 50.45 701.95 51.22 703.80 50.90 C705.65 50.58 707.57 50.10 709.60 47.90 C711.63 45.70 713.88 41.52 716.00 37.70 C718.12 33.88 720.40 28.18 722.30 25.00 C724.20 21.82 725.78 19.95 727.40 18.60 C729.02 17.25 730.30 16.77 732.00 16.90 C733.70 17.03 735.40 17.42 737.60 19.40 C739.80 21.38 742.67 24.70 745.20 28.80 C747.73 32.90 750.68 39.55 752.80 44.00 C754.92 48.45 756.55 53.03 757.90 55.50 C759.25 57.97 759.85 58.58 760.90 58.80 C761.95 59.02 763.00 57.57 764.20 56.80 C765.40 56.03 766.82 54.20 768.10 54.20 C769.38 54.20 771.00 56.20 771.90 56.80 C772.80 57.40 772.98 57.90 773.50 57.80 C774.02 57.70 774.75 56.47 775.00 56.20 L775.00 148.80 C774.90 149.57 774.80 150.52 774.40 153.40 C774.00 156.28 773.32 160.58 772.60 166.10 C771.88 171.62 770.95 181.63 770.10 186.50 C769.25 191.37 768.35 195.30 767.50 195.30 C766.65 195.30 765.97 190.52 765.00 186.50 C764.03 182.48 762.88 176.50 761.70 171.20 C760.52 165.90 759.17 158.72 757.90 154.70 C756.63 150.68 755.80 148.50 754.10 147.10 C752.40 145.70 750.45 146.18 747.70 146.30 C744.95 146.42 740.98 147.38 737.60 147.80 C734.22 148.22 730.37 149.00 727.40 148.80 C724.43 148.60 722.13 147.18 719.80 146.60 C717.47 146.02 715.52 145.02 713.40 145.30 C711.28 145.58 709.43 146.52 707.10 148.30 C704.77 150.08 702.37 152.82 699.40 156.00 C696.43 159.18 693.10 163.38 689.30 167.40 C685.50 171.42 681.27 176.50 676.60 180.10 C671.93 183.70 666.82 186.67 661.30 189.00 C655.78 191.33 650.70 192.83 643.50 194.10 C636.30 195.37 628.02 196.05 618.10 196.60 C608.18 197.15 589.68 197.27 584.00 197.40 Z" fill="#debe5c"/>
<path d="M584.00 30.30 C589.68 30.42 610.40 30.78 618.10 31.00 C625.80 31.22 624.60 31.02 630.20 31.60 C635.80 32.18 645.40 33.47 651.70 34.50 C658.00 35.53 662.78 36.32 668.00 37.80 C673.22 39.28 679.00 41.73 683.00 43.40 C687.00 45.07 689.42 46.60 692.00 47.80 C694.58 49.00 696.53 49.95 698.50 50.60 C700.47 51.25 701.95 52.02 703.80 51.70 C705.65 51.38 707.57 50.90 709.60 48.70 C711.63 46.50 713.88 42.32 716.00 38.50 C718.12 34.68 720.40 28.98 722.30 25.80 C724.20 22.62 725.78 20.75 727.40 19.40 C729.02 18.05 730.30 17.57 732.00 17.70 C733.70 17.83 735.40 18.22 737.60 20.20 C739.80 22.18 742.67 25.50 745.20 29.60 C747.73 33.70 750.68 40.35 752.80 44.80 C754.92 49.25 756.55 53.83 757.90 56.30 C759.25 58.77 759.85 59.38 760.90 59.60 C761.95 59.82 763.00 58.37 764.20 57.60 C765.40 56.83 766.82 55.00 768.10 55.00 C769.38 55.00 771.00 57.00 771.90 57.60 C772.80 58.20 772.98 58.70 773.50 58.60 C774.02 58.50 774.75 57.27 775.00 57.00 L775.00 148.00 C774.90 148.77 774.80 149.72 774.40 152.60 C774.00 155.48 773.32 159.78 772.60 165.30 C771.88 170.82 770.95 180.83 770.10 185.70 C769.25 190.57 768.35 194.50 767.50 194.50 C766.65 194.50 765.97 189.72 765.00 185.70 C764.03 181.68 762.88 175.70 761.70 170.40 C760.52 165.10 759.17 157.92 757.90 153.90 C756.63 149.88 755.80 147.70 754.10 146.30 C752.40 144.90 750.45 145.38 747.70 145.50 C744.95 145.62 740.98 146.58 737.60 147.00 C734.22 147.42 730.37 148.20 727.40 148.00 C724.43 147.80 722.13 146.38 719.80 145.80 C717.47 145.22 715.52 144.22 713.40 144.50 C711.28 144.78 709.43 145.72 707.10 147.50 C704.77 149.28 702.37 152.02 699.40 155.20 C696.43 158.38 693.10 162.58 689.30 166.60 C685.50 170.62 681.27 175.70 676.60 179.30 C671.93 182.90 666.82 185.87 661.30 188.20 C655.78 190.53 650.70 192.03 643.50 193.30 C636.30 194.57 628.02 195.25 618.10 195.80 C608.18 196.35 589.68 196.47 584.00 196.60 Z" fill="#ec807c"/>
<line x1="584.00" y1="100.50" x2="775.00" y2="100.50" stroke="#1a1a1a" stroke-width="1.0" stroke-dasharray="1.0 3.8"/>
<path d="M584.00 30.30 C589.68 30.42 610.40 30.78 618.10 31.00 C625.80 31.22 624.60 31.02 630.20 31.60 C635.80 32.18 645.40 33.47 651.70 34.50 C658.00 35.53 662.78 36.32 668.00 37.80 C673.22 39.28 679.00 41.73 683.00 43.40 C687.00 45.07 689.42 46.60 692.00 47.80 C694.58 49.00 696.53 49.95 698.50 50.60 C700.47 51.25 701.95 52.02 703.80 51.70 C705.65 51.38 707.57 50.90 709.60 48.70 C711.63 46.50 713.88 42.32 716.00 38.50 C718.12 34.68 720.40 28.98 722.30 25.80 C724.20 22.62 725.78 20.75 727.40 19.40 C729.02 18.05 730.30 17.57 732.00 17.70 C733.70 17.83 735.40 18.22 737.60 20.20 C739.80 22.18 742.67 25.50 745.20 29.60 C747.73 33.70 750.68 40.35 752.80 44.80 C754.92 49.25 756.55 53.83 757.90 56.30 C759.25 58.77 759.85 59.38 760.90 59.60 C761.95 59.82 763.00 58.37 764.20 57.60 C765.40 56.83 766.82 55.00 768.10 55.00 C769.38 55.00 771.00 57.00 771.90 57.60 C772.80 58.20 772.98 58.70 773.50 58.60 C774.02 58.50 774.75 57.27 775.00 57.00" fill="none" stroke="#b8645c" stroke-width="0.60" stroke-opacity="0.70"/>
<path d="M584.00 196.60 C589.68 196.47 608.18 196.35 618.10 195.80 C628.02 195.25 636.30 194.57 643.50 193.30 C650.70 192.03 655.78 190.53 661.30 188.20 C666.82 185.87 671.93 182.90 676.60 179.30 C681.27 175.70 685.50 170.62 689.30 166.60 C693.10 162.58 696.43 158.38 699.40 155.20 C702.37 152.02 704.77 149.28 707.10 147.50 C709.43 145.72 711.28 144.78 713.40 144.50 C715.52 144.22 717.47 145.22 719.80 145.80 C722.13 146.38 724.43 147.80 727.40 148.00 C730.37 148.20 734.22 147.42 737.60 147.00 C740.98 146.58 744.95 145.62 747.70 145.50 C750.45 145.38 752.40 144.90 754.10 146.30 C755.80 147.70 756.63 149.88 757.90 153.90 C759.17 157.92 760.52 165.10 761.70 170.40 C762.88 175.70 764.03 181.68 765.00 185.70 C765.97 189.72 766.65 194.50 767.50 194.50 C768.35 194.50 769.25 190.57 770.10 185.70 C770.95 180.83 771.88 170.82 772.60 165.30 C773.32 159.78 774.00 155.48 774.40 152.60 C774.80 149.72 774.90 148.77 775.00 148.00" fill="none" stroke="#b8645c" stroke-width="0.60" stroke-opacity="0.70"/>
<path d="M584.00 29.50 C589.68 29.62 610.40 29.98 618.10 30.20 C625.80 30.42 624.60 30.22 630.20 30.80 C635.80 31.38 645.40 32.67 651.70 33.70 C658.00 34.73 662.78 35.52 668.00 37.00 C673.22 38.48 679.00 40.93 683.00 42.60 C687.00 44.27 689.42 45.80 692.00 47.00 C694.58 48.20 696.53 49.15 698.50 49.80 C700.47 50.45 701.95 51.22 703.80 50.90 C705.65 50.58 707.57 50.10 709.60 47.90 C711.63 45.70 713.88 41.52 716.00 37.70 C718.12 33.88 720.40 28.18 722.30 25.00 C724.20 21.82 725.78 19.95 727.40 18.60 C729.02 17.25 730.30 16.77 732.00 16.90 C733.70 17.03 735.40 17.42 737.60 19.40 C739.80 21.38 742.67 24.70 745.20 28.80 C747.73 32.90 750.68 39.55 752.80 44.00 C754.92 48.45 756.55 53.03 757.90 55.50 C759.25 57.97 759.85 58.58 760.90 58.80 C761.95 59.02 763.00 57.57 764.20 56.80 C765.40 56.03 766.82 54.20 768.10 54.20 C769.38 54.20 771.00 56.20 771.90 56.80 C772.80 57.40 772.98 57.90 773.50 57.80 C774.02 57.70 774.75 56.47 775.00 56.20" fill="none" stroke="#a88438" stroke-width="0.90" stroke-opacity="1.00"/>
<path d="M584.00 197.40 C589.68 197.27 608.18 197.15 618.10 196.60 C628.02 196.05 636.30 195.37 643.50 194.10 C650.70 192.83 655.78 191.33 661.30 189.00 C666.82 186.67 671.93 183.70 676.60 180.10 C681.27 176.50 685.50 171.42 689.30 167.40 C693.10 163.38 696.43 159.18 699.40 156.00 C702.37 152.82 704.77 150.08 707.10 148.30 C709.43 146.52 711.28 145.58 713.40 145.30 C715.52 145.02 717.47 146.02 719.80 146.60 C722.13 147.18 724.43 148.60 727.40 148.80 C730.37 149.00 734.22 148.22 737.60 147.80 C740.98 147.38 744.95 146.42 747.70 146.30 C750.45 146.18 752.40 145.70 754.10 147.10 C755.80 148.50 756.63 150.68 757.90 154.70 C759.17 158.72 760.52 165.90 761.70 171.20 C762.88 176.50 764.03 182.48 765.00 186.50 C765.97 190.52 766.65 195.30 767.50 195.30 C768.35 195.30 769.25 191.37 770.10 186.50 C770.95 181.63 771.88 171.62 772.60 166.10 C773.32 160.58 774.00 156.28 774.40 153.40 C774.80 150.52 774.90 149.57 775.00 148.80" fill="none" stroke="#a88438" stroke-width="0.90" stroke-opacity="1.00"/>
<path d="M584.00 23.20 C589.68 23.30 610.40 23.60 618.10 23.80 C625.80 24.00 624.60 23.82 630.20 24.40 C635.80 24.98 645.40 26.10 651.70 27.30 C658.00 28.50 662.78 29.78 668.00 31.60 C673.22 33.42 679.00 36.20 683.00 38.20 C687.00 40.20 689.42 42.13 692.00 43.60 C694.58 45.07 696.53 46.23 698.50 47.00 C700.47 47.77 701.95 48.32 703.80 48.20 C705.65 48.08 707.57 48.08 709.60 46.30 C711.63 44.52 713.88 41.08 716.00 37.50 C718.12 33.92 720.40 27.98 722.30 24.80 C724.20 21.62 725.78 19.75 727.40 18.40 C729.02 17.05 730.30 16.57 732.00 16.70 C733.70 16.83 735.40 17.22 737.60 19.20 C739.80 21.18 742.67 24.50 745.20 28.60 C747.73 32.70 750.68 39.65 752.80 43.80 C754.92 47.95 756.55 51.33 757.90 53.50 C759.25 55.67 759.85 56.72 760.90 56.80 C761.95 56.88 763.00 54.85 764.20 54.00 C765.40 53.15 766.88 51.70 768.10 51.70 C769.32 51.70 770.65 54.28 771.50 54.00 C772.35 53.72 772.75 53.00 773.20 50.00 C773.65 47.00 773.90 40.67 774.20 36.00 C774.50 31.33 774.87 24.33 775.00 22.00" fill="none" stroke="#4646c8" stroke-width="0.80" stroke-opacity="0.85"/>
<path d="M584.00 189.00 C589.68 188.87 608.18 188.75 618.10 188.20 C628.02 187.65 636.30 186.77 643.50 185.70 C650.70 184.63 655.78 183.72 661.30 181.80 C666.82 179.88 671.93 177.37 676.60 174.20 C681.27 171.03 685.50 166.40 689.30 162.80 C693.10 159.20 696.43 155.27 699.40 152.60 C702.37 149.93 704.77 148.20 707.10 146.80 C709.43 145.40 711.28 144.43 713.40 144.20 C715.52 143.97 717.47 144.83 719.80 145.40 C722.13 145.97 724.43 147.40 727.40 147.60 C730.37 147.80 734.22 147.02 737.60 146.60 C740.98 146.18 744.95 145.22 747.70 145.10 C750.45 144.98 752.40 144.50 754.10 145.90 C755.80 147.30 756.63 149.82 757.90 153.50 C759.17 157.18 760.52 163.17 761.70 168.00 C762.88 172.83 764.03 178.72 765.00 182.50 C765.97 186.28 766.65 190.70 767.50 190.70 C768.35 190.70 769.25 187.12 770.10 182.50 C770.95 177.88 771.88 168.25 772.60 163.00 C773.32 157.75 774.00 153.83 774.40 151.00 C774.80 148.17 774.90 146.83 775.00 146.00" fill="none" stroke="#4646c8" stroke-width="0.80" stroke-opacity="0.85"/>
<path d="M584.00 144.20 C589.68 144.08 608.18 143.88 618.10 143.50 C628.02 143.12 636.30 142.72 643.50 141.90 C650.70 141.08 655.78 140.20 661.30 138.60 C666.82 137.00 671.93 134.83 676.60 132.30 C681.27 129.77 685.50 126.58 689.30 123.40 C693.10 120.22 696.43 116.38 699.40 113.20 C702.37 110.02 704.55 107.47 707.10 104.30 C709.65 101.13 712.17 97.17 714.70 94.20 C717.23 91.23 720.40 88.28 722.30 86.50 C724.20 84.72 724.62 84.22 726.10 83.50 C727.58 82.78 729.28 82.17 731.20 82.20 C733.12 82.23 735.27 82.30 737.60 83.70 C739.93 85.10 742.67 87.33 745.20 90.60 C747.73 93.87 750.68 99.07 752.80 103.30 C754.92 107.53 756.20 111.98 757.90 116.00 C759.60 120.02 761.43 124.82 763.00 127.40 C764.57 129.98 766.03 131.90 767.30 131.50 C768.57 131.10 769.55 128.92 770.60 125.00 C771.65 121.08 772.90 112.08 773.60 108.00 C774.30 103.92 774.60 101.75 774.80 100.50" fill="none" stroke="#1c148c" stroke-width="1.95"/>
<path d="M584.00 144.00 C589.68 143.88 608.18 143.68 618.10 143.30 C628.02 142.92 636.30 142.52 643.50 141.70 C650.70 140.88 655.78 140.00 661.30 138.40 C666.82 136.80 671.93 134.63 676.60 132.10 C681.27 129.57 685.50 126.38 689.30 123.20 C693.10 120.02 696.43 116.18 699.40 113.00 C702.37 109.82 704.55 107.27 707.10 104.10 C709.65 100.93 712.17 96.97 714.70 94.00 C717.23 91.03 720.40 88.08 722.30 86.30 C724.20 84.52 724.62 84.02 726.10 83.30 C727.58 82.58 729.28 81.97 731.20 82.00 C733.12 82.03 735.27 82.10 737.60 83.50 C739.93 84.90 742.67 87.13 745.20 90.40 C747.73 93.67 750.68 98.87 752.80 103.10 C754.92 107.33 756.20 111.78 757.90 115.80 C759.60 119.82 761.43 124.62 763.00 127.20 C764.57 129.78 766.03 131.70 767.30 131.30 C768.57 130.90 769.55 128.72 770.60 124.80 C771.65 120.88 772.90 111.88 773.60 107.80 C774.30 103.72 774.60 101.55 774.80 100.30" fill="none" stroke="#7c5e10" stroke-width="1.85" stroke-opacity="0.82" stroke-dasharray="7 4" stroke-dashoffset="-3.5"/>
<path d="M584.00 144.00 C589.68 143.88 608.18 143.68 618.10 143.30 C628.02 142.92 636.30 142.52 643.50 141.70 C650.70 140.88 655.78 140.00 661.30 138.40 C666.82 136.80 671.93 134.63 676.60 132.10 C681.27 129.57 685.50 126.38 689.30 123.20 C693.10 120.02 696.43 116.18 699.40 113.00 C702.37 109.82 704.55 107.27 707.10 104.10 C709.65 100.93 712.17 96.97 714.70 94.00 C717.23 91.03 720.40 88.08 722.30 86.30 C724.20 84.52 724.62 84.02 726.10 83.30 C727.58 82.58 729.28 81.97 731.20 82.00 C733.12 82.03 735.27 82.10 737.60 83.50 C739.93 84.90 742.67 87.13 745.20 90.40 C747.73 93.67 750.68 98.87 752.80 103.10 C754.92 107.33 756.20 111.78 757.90 115.80 C759.60 119.82 761.43 124.62 763.00 127.20 C764.57 129.78 766.03 131.70 767.30 131.30 C768.57 130.90 769.55 128.72 770.60 124.80 C771.65 120.88 772.90 111.88 773.60 107.80 C774.30 103.72 774.60 101.55 774.80 100.30" fill="none" stroke="#8a3848" stroke-width="2.0" stroke-opacity="0.8" stroke-dasharray="1.3 8.9" stroke-dashoffset="-6"/>
</g>
<path d="M584.00 12.40v7.60 M584.00 203.40v-7.60 M598.37 12.40v5.00 M598.37 203.40v-5.00 M606.78 12.40v5.00 M606.78 203.40v-5.00 M612.75 12.40v5.00 M612.75 203.40v-5.00 M617.38 12.40v5.00 M617.38 203.40v-5.00 M621.16 12.40v5.00 M621.16 203.40v-5.00 M624.35 12.40v5.00 M624.35 203.40v-5.00 M627.12 12.40v5.00 M627.12 203.40v-5.00 M629.57 12.40v5.00 M629.57 203.40v-5.00 M631.75 12.40v7.60 M631.75 203.40v-7.60 M646.12 12.40v5.00 M646.12 203.40v-5.00 M654.53 12.40v5.00 M654.53 203.40v-5.00 M660.50 12.40v5.00 M660.50 203.40v-5.00 M665.13 12.40v5.00 M665.13 203.40v-5.00 M668.91 12.40v5.00 M668.91 203.40v-5.00 M672.10 12.40v5.00 M672.10 203.40v-5.00 M674.87 12.40v5.00 M674.87 203.40v-5.00 M677.32 12.40v5.00 M677.32 203.40v-5.00 M679.50 12.40v7.60 M679.50 203.40v-7.60 M693.87 12.40v5.00 M693.87 203.40v-5.00 M702.28 12.40v5.00 M702.28 203.40v-5.00 M708.25 12.40v5.00 M708.25 203.40v-5.00 M712.88 12.40v5.00 M712.88 203.40v-5.00 M716.66 12.40v5.00 M716.66 203.40v-5.00 M719.85 12.40v5.00 M719.85 203.40v-5.00 M722.62 12.40v5.00 M722.62 203.40v-5.00 M725.07 12.40v5.00 M725.07 203.40v-5.00 M727.25 12.40v7.60 M727.25 203.40v-7.60 M741.62 12.40v5.00 M741.62 203.40v-5.00 M750.03 12.40v5.00 M750.03 203.40v-5.00 M756.00 12.40v5.00 M756.00 203.40v-5.00 M760.63 12.40v5.00 M760.63 203.40v-5.00 M764.41 12.40v5.00 M764.41 203.40v-5.00 M767.60 12.40v5.00 M767.60 203.40v-5.00 M770.37 12.40v5.00 M770.37 203.40v-5.00 M772.82 12.40v5.00 M772.82 203.40v-5.00 M584.00 27.30h8 M775.00 27.30h-8 M584.00 63.90h8 M775.00 63.90h-8 M584.00 100.50h8 M775.00 100.50h-8 M584.00 137.10h8 M775.00 137.10h-8 M584.00 173.70h8 M775.00 173.70h-8" stroke="#000" stroke-opacity="0.28" stroke-width="0.7" fill="none"/>
<rect x="584.00" y="12.40" width="191.00" height="191.00" fill="none" stroke="#1a1a1a" stroke-width="1"/>
<text x="577.20" y="33.60" text-anchor="end" class="t">2</text>
<text x="577.20" y="70.20" text-anchor="end" class="t">1.5</text>
<text x="577.20" y="106.80" text-anchor="end" class="t">1</text>
<text x="577.20" y="143.40" text-anchor="end" class="t">0.5</text>
<text x="577.20" y="180.00" text-anchor="end" class="t">0</text>
<text x="564.00" y="226.00" class="t" textLength="19.9" lengthAdjust="spacingAndGlyphs">10</text>
<text x="584.30" y="219.10" font-size="14" textLength="17.6" lengthAdjust="spacingAndGlyphs">−4</text>
<text x="611.75" y="226.00" class="t" textLength="19.9" lengthAdjust="spacingAndGlyphs">10</text>
<text x="632.05" y="219.10" font-size="14" textLength="17.6" lengthAdjust="spacingAndGlyphs">−3</text>
<text x="659.50" y="226.00" class="t" textLength="19.9" lengthAdjust="spacingAndGlyphs">10</text>
<text x="679.80" y="219.10" font-size="14" textLength="17.6" lengthAdjust="spacingAndGlyphs">−2</text>
<text x="707.25" y="226.00" class="t" textLength="19.9" lengthAdjust="spacingAndGlyphs">10</text>
<text x="727.55" y="219.10" font-size="14" textLength="17.6" lengthAdjust="spacingAndGlyphs">−1</text>
<text x="775.00" y="226.00" text-anchor="middle" class="t">1</text>
<text x="679.50" y="241.70" text-anchor="middle" class="ti">x</text>
<g transform="translate(545.50 131.00) rotate(-90)">
<text x="0" y="0" font-size="19.6" font-style="italic" textLength="10.2" lengthAdjust="spacingAndGlyphs">R</text>
<text x="12.2" y="-9.6" font-size="13.3" font-style="italic" textLength="6.6" lengthAdjust="spacingAndGlyphs">p</text>
<line x1="18.9" y1="-6.8" x2="28.0" y2="-19.8" stroke="#111" stroke-width="1.0"/>
<text x="28.6" y="-9.6" font-size="13.7" textLength="17.4" lengthAdjust="spacingAndGlyphs">Pb</text>
<text x="12.6" y="5.7" font-size="13.3" font-style="italic" textLength="7.4" lengthAdjust="spacingAndGlyphs">s</text>
<line x1="14.4" y1="-3.5" x2="19.0" y2="-3.5" stroke="#111" stroke-width="0.8"/>
</g>
<g clip-path="url(#c3)">
<path d="M72.00 232.50 C83.33 232.67 125.50 232.17 140.00 233.50 C154.50 234.83 154.27 237.78 159.00 240.50 C163.73 243.22 165.95 246.43 168.40 249.80 C170.85 253.17 171.68 255.92 173.70 260.70 C175.72 265.48 178.25 272.27 180.50 278.50 C182.75 284.73 185.40 292.76 187.20 298.08 C189.00 303.39 190.20 307.59 191.30 310.36 C192.40 313.13 192.97 314.81 193.80 314.70 C194.63 314.59 195.25 313.29 196.30 309.69 C197.35 306.08 198.82 298.38 200.10 293.07 C201.38 287.77 202.72 281.74 204.00 277.86 C205.28 273.97 206.32 271.66 207.80 269.74 C209.28 267.82 210.78 266.46 212.90 266.32 C215.02 266.17 217.97 267.61 220.50 268.88 C223.03 270.16 225.57 271.80 228.10 273.95 C230.63 276.11 233.45 279.86 235.70 281.82 C237.95 283.78 239.68 285.80 241.60 285.73 C243.52 285.66 245.43 283.12 247.20 281.40 C248.97 279.68 250.72 277.06 252.20 275.40 C253.68 273.74 255.12 273.53 256.10 271.44 C257.08 269.35 257.55 266.16 258.10 262.84 C258.65 259.52 258.92 256.27 259.40 251.50 C259.88 246.73 260.40 238.75 261.00 234.20 C261.60 229.65 262.67 225.87 263.00 224.20 L263.00 375.80 C262.82 376.80 262.42 379.50 261.90 381.80 C261.38 384.10 260.67 387.58 259.90 389.60 C259.13 391.62 258.15 393.48 257.30 393.90 C256.45 394.32 255.85 393.87 254.80 392.10 C253.75 390.33 252.48 387.53 251.00 383.30 C249.52 379.07 247.60 371.03 245.90 366.70 C244.20 362.37 242.50 359.18 240.80 357.30 C239.10 355.42 237.40 355.45 235.70 355.45 C234.00 355.45 233.13 356.19 230.60 357.28 C228.07 358.38 223.88 360.90 220.50 362.04 C217.12 363.18 212.63 363.98 210.30 364.13 C207.97 364.29 207.98 364.34 206.50 362.97 C205.02 361.60 202.88 359.26 201.40 355.91 C199.92 352.56 198.78 346.56 197.60 342.86 C196.42 339.16 195.35 333.74 194.30 333.70 C193.25 333.66 192.58 337.73 191.30 342.60 C190.02 347.47 188.05 356.95 186.60 362.90 C185.15 368.85 184.10 372.82 182.60 378.30 C181.10 383.78 179.43 389.72 177.60 395.80 C175.77 401.88 173.57 408.45 171.60 414.80 C169.63 421.15 167.72 429.07 165.80 433.90 C163.88 438.73 164.40 440.15 160.10 443.80 C155.80 447.45 154.68 452.97 140.00 455.80 C125.32 458.63 83.33 459.97 72.00 460.80 Z" fill="#c0d0e8"/>
<path d="M72.00 234.30 C83.33 234.47 125.50 233.97 140.00 235.30 C154.50 236.63 154.27 239.58 159.00 242.30 C163.73 245.02 165.95 248.23 168.40 251.60 C170.85 254.97 171.68 257.72 173.70 262.50 C175.72 267.28 178.25 274.15 180.50 280.30 C182.75 286.45 185.40 294.32 187.20 299.40 C189.00 304.48 190.20 308.27 191.30 310.80 C192.40 313.33 192.97 314.80 193.80 314.60 C194.63 314.40 195.25 313.20 196.30 309.60 C197.35 306.00 198.82 298.30 200.10 293.00 C201.38 287.70 202.72 281.68 204.00 277.80 C205.28 273.92 206.32 271.62 207.80 269.70 C209.28 267.78 210.78 266.43 212.90 266.30 C215.02 266.17 217.97 267.62 220.50 268.90 C223.03 270.18 225.57 271.83 228.10 274.00 C230.63 276.17 233.45 279.88 235.70 281.90 C237.95 283.92 239.68 285.97 241.60 286.10 C243.52 286.23 245.43 284.27 247.20 282.70 C248.97 281.13 250.72 278.37 252.20 276.70 C253.68 275.03 255.12 274.93 256.10 272.70 C257.08 270.47 257.55 266.82 258.10 263.30 C258.65 259.78 258.92 256.43 259.40 251.60 C259.88 246.77 260.40 238.85 261.00 234.30 C261.60 229.75 262.67 225.97 263.00 224.30 L263.00 375.70 C262.82 376.70 262.42 379.40 261.90 381.70 C261.38 384.00 260.67 387.48 259.90 389.50 C259.13 391.52 258.15 393.38 257.30 393.80 C256.45 394.22 255.85 393.77 254.80 392.00 C253.75 390.23 252.48 387.43 251.00 383.20 C249.52 378.97 247.60 370.93 245.90 366.60 C244.20 362.27 242.50 359.18 240.80 357.20 C239.10 355.22 237.40 354.95 235.70 354.70 C234.00 354.45 233.13 354.90 230.60 355.70 C228.07 356.50 223.88 358.53 220.50 359.50 C217.12 360.47 212.63 361.37 210.30 361.50 C207.97 361.63 207.98 361.57 206.50 360.30 C205.02 359.03 202.88 356.87 201.40 353.90 C199.92 350.93 198.78 345.88 197.60 342.50 C196.42 339.12 195.35 333.60 194.30 333.60 C193.25 333.60 192.58 337.63 191.30 342.50 C190.02 347.37 188.05 356.85 186.60 362.80 C185.15 368.75 184.10 372.72 182.60 378.20 C181.10 383.68 179.43 389.62 177.60 395.70 C175.77 401.78 173.57 408.35 171.60 414.70 C169.63 421.05 167.72 428.97 165.80 433.80 C163.88 438.63 164.40 440.05 160.10 443.70 C155.80 447.35 154.68 452.87 140.00 455.70 C125.32 458.53 83.33 459.87 72.00 460.70 Z" fill="#debe5c"/>
<path d="M72.00 235.00 C83.33 235.17 125.50 234.67 140.00 236.00 C154.50 237.33 154.27 240.28 159.00 243.00 C163.73 245.72 165.95 248.93 168.40 252.30 C170.85 255.67 171.68 258.42 173.70 263.20 C175.72 267.98 178.25 274.85 180.50 281.00 C182.75 287.15 185.40 295.02 187.20 300.10 C189.00 305.18 190.20 308.97 191.30 311.50 C192.40 314.03 192.97 315.50 193.80 315.30 C194.63 315.10 195.25 313.90 196.30 310.30 C197.35 306.70 198.82 299.00 200.10 293.70 C201.38 288.40 202.72 282.38 204.00 278.50 C205.28 274.62 206.32 272.32 207.80 270.40 C209.28 268.48 210.78 267.13 212.90 267.00 C215.02 266.87 217.97 268.32 220.50 269.60 C223.03 270.88 225.57 272.53 228.10 274.70 C230.63 276.87 233.45 280.58 235.70 282.60 C237.95 284.62 239.68 286.67 241.60 286.80 C243.52 286.93 245.43 284.97 247.20 283.40 C248.97 281.83 250.72 279.07 252.20 277.40 C253.68 275.73 255.12 275.63 256.10 273.40 C257.08 271.17 257.55 267.52 258.10 264.00 C258.65 260.48 258.92 257.13 259.40 252.30 C259.88 247.47 260.40 239.55 261.00 235.00 C261.60 230.45 262.67 226.67 263.00 225.00 L263.00 375.00 C262.82 376.00 262.42 378.70 261.90 381.00 C261.38 383.30 260.67 386.78 259.90 388.80 C259.13 390.82 258.15 392.68 257.30 393.10 C256.45 393.52 255.85 393.07 254.80 391.30 C253.75 389.53 252.48 386.73 251.00 382.50 C249.52 378.27 247.60 370.23 245.90 365.90 C244.20 361.57 242.50 358.48 240.80 356.50 C239.10 354.52 237.40 354.25 235.70 354.00 C234.00 353.75 233.13 354.20 230.60 355.00 C228.07 355.80 223.88 357.83 220.50 358.80 C217.12 359.77 212.63 360.67 210.30 360.80 C207.97 360.93 207.98 360.87 206.50 359.60 C205.02 358.33 202.88 356.17 201.40 353.20 C199.92 350.23 198.78 345.18 197.60 341.80 C196.42 338.42 195.35 332.90 194.30 332.90 C193.25 332.90 192.58 336.93 191.30 341.80 C190.02 346.67 188.05 356.15 186.60 362.10 C185.15 368.05 184.10 372.02 182.60 377.50 C181.10 382.98 179.43 388.92 177.60 395.00 C175.77 401.08 173.57 407.65 171.60 414.00 C169.63 420.35 167.72 428.27 165.80 433.10 C163.88 437.93 164.40 439.35 160.10 443.00 C155.80 446.65 154.68 452.17 140.00 455.00 C125.32 457.83 83.33 459.17 72.00 460.00 Z" fill="#ec807c"/>
<line x1="72.00" y1="323.82" x2="263.00" y2="323.82" stroke="#1a1a1a" stroke-width="1.0" stroke-dasharray="1.0 3.8"/>
<path d="M72.00 235.00 C83.33 235.17 125.50 234.67 140.00 236.00 C154.50 237.33 154.27 240.28 159.00 243.00 C163.73 245.72 165.95 248.93 168.40 252.30 C170.85 255.67 171.68 258.42 173.70 263.20 C175.72 267.98 178.25 274.85 180.50 281.00 C182.75 287.15 185.40 295.02 187.20 300.10 C189.00 305.18 190.20 308.97 191.30 311.50 C192.40 314.03 192.97 315.50 193.80 315.30 C194.63 315.10 195.25 313.90 196.30 310.30 C197.35 306.70 198.82 299.00 200.10 293.70 C201.38 288.40 202.72 282.38 204.00 278.50 C205.28 274.62 206.32 272.32 207.80 270.40 C209.28 268.48 210.78 267.13 212.90 267.00 C215.02 266.87 217.97 268.32 220.50 269.60 C223.03 270.88 225.57 272.53 228.10 274.70 C230.63 276.87 233.45 280.58 235.70 282.60 C237.95 284.62 239.68 286.67 241.60 286.80 C243.52 286.93 245.43 284.97 247.20 283.40 C248.97 281.83 250.72 279.07 252.20 277.40 C253.68 275.73 255.12 275.63 256.10 273.40 C257.08 271.17 257.55 267.52 258.10 264.00 C258.65 260.48 258.92 257.13 259.40 252.30 C259.88 247.47 260.40 239.55 261.00 235.00 C261.60 230.45 262.67 226.67 263.00 225.00" fill="none" stroke="#b8645c" stroke-width="0.60" stroke-opacity="0.70"/>
<path d="M72.00 460.00 C83.33 459.17 125.32 457.83 140.00 455.00 C154.68 452.17 155.80 446.65 160.10 443.00 C164.40 439.35 163.88 437.93 165.80 433.10 C167.72 428.27 169.63 420.35 171.60 414.00 C173.57 407.65 175.77 401.08 177.60 395.00 C179.43 388.92 181.10 382.98 182.60 377.50 C184.10 372.02 185.15 368.05 186.60 362.10 C188.05 356.15 190.02 346.67 191.30 341.80 C192.58 336.93 193.25 332.90 194.30 332.90 C195.35 332.90 196.42 338.42 197.60 341.80 C198.78 345.18 199.92 350.23 201.40 353.20 C202.88 356.17 205.02 358.33 206.50 359.60 C207.98 360.87 207.97 360.93 210.30 360.80 C212.63 360.67 217.12 359.77 220.50 358.80 C223.88 357.83 228.07 355.80 230.60 355.00 C233.13 354.20 234.00 353.75 235.70 354.00 C237.40 354.25 239.10 354.52 240.80 356.50 C242.50 358.48 244.20 361.57 245.90 365.90 C247.60 370.23 249.52 378.27 251.00 382.50 C252.48 386.73 253.75 389.53 254.80 391.30 C255.85 393.07 256.45 393.52 257.30 393.10 C258.15 392.68 259.13 390.82 259.90 388.80 C260.67 386.78 261.38 383.30 261.90 381.00 C262.42 378.70 262.82 376.00 263.00 375.00" fill="none" stroke="#b8645c" stroke-width="0.60" stroke-opacity="0.70"/>
<path d="M72.00 234.30 C83.33 234.47 125.50 233.97 140.00 235.30 C154.50 236.63 154.27 239.58 159.00 242.30 C163.73 245.02 165.95 248.23 168.40 251.60 C170.85 254.97 171.68 257.72 173.70 262.50 C175.72 267.28 178.25 274.15 180.50 280.30 C182.75 286.45 185.40 294.32 187.20 299.40 C189.00 304.48 190.20 308.27 191.30 310.80 C192.40 313.33 192.97 314.80 193.80 314.60 C194.63 314.40 195.25 313.20 196.30 309.60 C197.35 306.00 198.82 298.30 200.10 293.00 C201.38 287.70 202.72 281.68 204.00 277.80 C205.28 273.92 206.32 271.62 207.80 269.70 C209.28 267.78 210.78 266.43 212.90 266.30 C215.02 266.17 217.97 267.62 220.50 268.90 C223.03 270.18 225.57 271.83 228.10 274.00 C230.63 276.17 233.45 279.88 235.70 281.90 C237.95 283.92 239.68 285.97 241.60 286.10 C243.52 286.23 245.43 284.27 247.20 282.70 C248.97 281.13 250.72 278.37 252.20 276.70 C253.68 275.03 255.12 274.93 256.10 272.70 C257.08 270.47 257.55 266.82 258.10 263.30 C258.65 259.78 258.92 256.43 259.40 251.60 C259.88 246.77 260.40 238.85 261.00 234.30 C261.60 229.75 262.67 225.97 263.00 224.30" fill="none" stroke="#a88438" stroke-width="0.90" stroke-opacity="1.00"/>
<path d="M72.00 460.70 C83.33 459.87 125.32 458.53 140.00 455.70 C154.68 452.87 155.80 447.35 160.10 443.70 C164.40 440.05 163.88 438.63 165.80 433.80 C167.72 428.97 169.63 421.05 171.60 414.70 C173.57 408.35 175.77 401.78 177.60 395.70 C179.43 389.62 181.10 383.68 182.60 378.20 C184.10 372.72 185.15 368.75 186.60 362.80 C188.05 356.85 190.02 347.37 191.30 342.50 C192.58 337.63 193.25 333.60 194.30 333.60 C195.35 333.60 196.42 339.12 197.60 342.50 C198.78 345.88 199.92 350.93 201.40 353.90 C202.88 356.87 205.02 359.03 206.50 360.30 C207.98 361.57 207.97 361.63 210.30 361.50 C212.63 361.37 217.12 360.47 220.50 359.50 C223.88 358.53 228.07 356.50 230.60 355.70 C233.13 354.90 234.00 354.45 235.70 354.70 C237.40 354.95 239.10 355.22 240.80 357.20 C242.50 359.18 244.20 362.27 245.90 366.60 C247.60 370.93 249.52 378.97 251.00 383.20 C252.48 387.43 253.75 390.23 254.80 392.00 C255.85 393.77 256.45 394.22 257.30 393.80 C258.15 393.38 259.13 391.52 259.90 389.50 C260.67 387.48 261.38 384.00 261.90 381.70 C262.42 379.40 262.82 376.70 263.00 375.70" fill="none" stroke="#a88438" stroke-width="0.90" stroke-opacity="1.00"/>
<path d="M72.00 232.50 C83.33 232.67 125.50 232.17 140.00 233.50 C154.50 234.83 154.27 237.78 159.00 240.50 C163.73 243.22 165.95 246.43 168.40 249.80 C170.85 253.17 171.68 255.92 173.70 260.70 C175.72 265.48 178.25 272.27 180.50 278.50 C182.75 284.73 185.40 292.76 187.20 298.08 C189.00 303.39 190.20 307.59 191.30 310.36 C192.40 313.13 192.97 314.81 193.80 314.70 C194.63 314.59 195.25 313.29 196.30 309.69 C197.35 306.08 198.82 298.38 200.10 293.07 C201.38 287.77 202.72 281.74 204.00 277.86 C205.28 273.97 206.32 271.66 207.80 269.74 C209.28 267.82 210.78 266.46 212.90 266.32 C215.02 266.17 217.97 267.61 220.50 268.88 C223.03 270.16 225.57 271.80 228.10 273.95 C230.63 276.11 233.45 279.86 235.70 281.82 C237.95 283.78 239.68 285.80 241.60 285.73 C243.52 285.66 245.43 283.12 247.20 281.40 C248.97 279.68 250.72 277.06 252.20 275.40 C253.68 273.74 255.12 273.53 256.10 271.44 C257.08 269.35 257.55 266.16 258.10 262.84 C258.65 259.52 258.92 256.27 259.40 251.50 C259.88 246.73 260.40 238.75 261.00 234.20 C261.60 229.65 262.67 225.87 263.00 224.20" fill="none" stroke="#4646c8" stroke-width="0.80" stroke-opacity="0.85"/>
<path d="M72.00 460.80 C83.33 459.97 125.32 458.63 140.00 455.80 C154.68 452.97 155.80 447.45 160.10 443.80 C164.40 440.15 163.88 438.73 165.80 433.90 C167.72 429.07 169.63 421.15 171.60 414.80 C173.57 408.45 175.77 401.88 177.60 395.80 C179.43 389.72 181.10 383.78 182.60 378.30 C184.10 372.82 185.15 368.85 186.60 362.90 C188.05 356.95 190.02 347.47 191.30 342.60 C192.58 337.73 193.25 333.66 194.30 333.70 C195.35 333.74 196.42 339.16 197.60 342.86 C198.78 346.56 199.92 352.56 201.40 355.91 C202.88 359.26 205.02 361.60 206.50 362.97 C207.98 364.34 207.97 364.29 210.30 364.13 C212.63 363.98 217.12 363.18 220.50 362.04 C223.88 360.90 228.07 358.38 230.60 357.28 C233.13 356.19 234.00 355.45 235.70 355.45 C237.40 355.45 239.10 355.42 240.80 357.30 C242.50 359.18 244.20 362.37 245.90 366.70 C247.60 371.03 249.52 379.07 251.00 383.30 C252.48 387.53 253.75 390.33 254.80 392.10 C255.85 393.87 256.45 394.32 257.30 393.90 C258.15 393.48 259.13 391.62 259.90 389.60 C260.67 387.58 261.38 384.10 261.90 381.80 C262.42 379.50 262.82 376.80 263.00 375.80" fill="none" stroke="#4646c8" stroke-width="0.80" stroke-opacity="0.85"/>
<path d="M72.00 345.80 C77.68 345.72 96.18 345.58 106.10 345.30 C116.02 345.02 123.87 344.73 131.50 344.10 C139.13 343.47 145.55 342.78 151.90 341.50 C158.25 340.22 164.52 338.43 169.60 336.40 C174.68 334.37 178.58 331.67 182.40 329.30 C186.22 326.93 189.55 324.32 192.50 322.20 C195.45 320.08 197.55 318.03 200.10 316.60 C202.65 315.17 205.67 314.15 207.80 313.60 C209.93 313.05 210.37 313.02 212.90 313.30 C215.43 313.58 219.62 314.12 223.00 315.30 C226.38 316.48 229.80 318.28 233.20 320.40 C236.60 322.52 240.43 325.67 243.40 328.00 C246.37 330.33 248.98 333.03 251.00 334.40 C253.02 335.77 254.23 337.05 255.50 336.20 C256.77 335.35 257.78 334.27 258.60 329.30 C259.42 324.33 259.88 313.95 260.40 306.40 C260.92 298.85 261.32 290.40 261.70 284.00 C262.08 277.60 262.53 270.67 262.70 268.00" fill="none" stroke="#1c148c" stroke-width="1.95"/>
<path d="M72.00 345.00 C77.68 344.95 96.18 344.91 106.10 344.67 C116.02 344.44 123.87 344.20 131.50 343.60 C139.13 343.01 145.55 342.36 151.90 341.11 C158.25 339.86 164.52 338.10 169.60 336.10 C174.68 334.09 178.58 331.41 182.40 329.06 C186.22 326.71 189.55 324.11 192.50 322.01 C195.45 319.90 197.55 317.85 200.10 316.43 C202.65 315.00 205.67 313.99 207.80 313.45 C209.93 312.90 210.37 312.87 212.90 313.16 C215.43 313.45 219.62 314.00 223.00 315.19 C226.38 316.38 229.80 318.19 233.20 320.32 C236.60 322.44 240.43 325.60 243.40 327.95 C246.37 330.29 248.98 332.99 251.00 334.37 C253.02 335.74 254.23 337.03 255.50 336.18 C256.77 335.33 257.78 334.25 258.60 329.29 C259.42 324.32 260.10 310.21 260.40 306.39" fill="none" stroke="#7c5e10" stroke-width="1.85" stroke-opacity="0.82" stroke-dasharray="7 4" stroke-dashoffset="-3.5"/>
<path d="M72.00 345.00 C77.68 344.95 96.18 344.91 106.10 344.67 C116.02 344.44 123.87 344.20 131.50 343.60 C139.13 343.01 145.55 342.36 151.90 341.11 C158.25 339.86 164.52 338.10 169.60 336.10 C174.68 334.09 178.58 331.41 182.40 329.06 C186.22 326.71 189.55 324.11 192.50 322.01 C195.45 319.90 197.55 317.85 200.10 316.43 C202.65 315.00 205.67 313.99 207.80 313.45 C209.93 312.90 210.37 312.87 212.90 313.16 C215.43 313.45 219.62 314.00 223.00 315.19 C226.38 316.38 229.80 318.19 233.20 320.32 C236.60 322.44 240.43 325.60 243.40 327.95 C246.37 330.29 248.98 332.99 251.00 334.37 C253.02 335.74 254.23 337.03 255.50 336.18 C256.77 335.33 257.78 334.25 258.60 329.29 C259.42 324.32 260.10 310.21 260.40 306.39" fill="none" stroke="#8a3848" stroke-width="2.0" stroke-opacity="0.8" stroke-dasharray="1.3 8.9" stroke-dashoffset="-6"/>
</g>
<path d="M72.00 252.20v7.60 M72.00 443.20v-7.60 M86.37 252.20v5.00 M86.37 443.20v-5.00 M94.78 252.20v5.00 M94.78 443.20v-5.00 M100.75 252.20v5.00 M100.75 443.20v-5.00 M105.38 252.20v5.00 M105.38 443.20v-5.00 M109.16 252.20v5.00 M109.16 443.20v-5.00 M112.35 252.20v5.00 M112.35 443.20v-5.00 M115.12 252.20v5.00 M115.12 443.20v-5.00 M117.57 252.20v5.00 M117.57 443.20v-5.00 M119.75 252.20v7.60 M119.75 443.20v-7.60 M134.12 252.20v5.00 M134.12 443.20v-5.00 M142.53 252.20v5.00 M142.53 443.20v-5.00 M148.50 252.20v5.00 M148.50 443.20v-5.00 M153.13 252.20v5.00 M153.13 443.20v-5.00 M156.91 252.20v5.00 M156.91 443.20v-5.00 M160.10 252.20v5.00 M160.10 443.20v-5.00 M162.87 252.20v5.00 M162.87 443.20v-5.00 M165.32 252.20v5.00 M165.32 443.20v-5.00 M167.50 252.20v7.60 M167.50 443.20v-7.60 M181.87 252.20v5.00 M181.87 443.20v-5.00 M190.28 252.20v5.00 M190.28 443.20v-5.00 M196.25 252.20v5.00 M196.25 443.20v-5.00 M200.88 252.20v5.00 M200.88 443.20v-5.00 M204.66 252.20v5.00 M204.66 443.20v-5.00 M207.85 252.20v5.00 M207.85 443.20v-5.00 M210.62 252.20v5.00 M210.62 443.20v-5.00 M213.07 252.20v5.00 M213.07 443.20v-5.00 M215.25 252.20v7.60 M215.25 443.20v-7.60 M229.62 252.20v5.00 M229.62 443.20v-5.00 M238.03 252.20v5.00 M238.03 443.20v-5.00 M244.00 252.20v5.00 M244.00 443.20v-5.00 M248.63 252.20v5.00 M248.63 443.20v-5.00 M252.41 252.20v5.00 M252.41 443.20v-5.00 M255.60 252.20v5.00 M255.60 443.20v-5.00 M258.37 252.20v5.00 M258.37 443.20v-5.00 M260.82 252.20v5.00 M260.82 443.20v-5.00 M72.00 276.07h8 M263.00 276.07h-8 M72.00 299.95h8 M263.00 299.95h-8 M72.00 323.82h8 M263.00 323.82h-8 M72.00 347.70h8 M263.00 347.70h-8 M72.00 371.57h8 M263.00 371.57h-8 M72.00 395.45h8 M263.00 395.45h-8 M72.00 419.32h8 M263.00 419.32h-8" stroke="#000" stroke-opacity="0.28" stroke-width="0.7" fill="none"/>
<rect x="72.00" y="252.20" width="191.00" height="191.00" fill="none" stroke="#1a1a1a" stroke-width="1"/>
<text x="65.20" y="258.50" text-anchor="end" class="t">1.6</text>
<text x="65.20" y="282.38" text-anchor="end" class="t">1.4</text>
<text x="65.20" y="306.25" text-anchor="end" class="t">1.2</text>
<text x="65.20" y="330.12" text-anchor="end" class="t">1</text>
<text x="65.20" y="354.00" text-anchor="end" class="t">0.8</text>
<text x="65.20" y="377.88" text-anchor="end" class="t">0.6</text>
<text x="65.20" y="401.75" text-anchor="end" class="t">0.4</text>
<text x="65.20" y="425.62" text-anchor="end" class="t">0.2</text>
<text x="65.20" y="449.50" text-anchor="end" class="t">0</text>
<text x="52.00" y="465.80" class="t" textLength="19.9" lengthAdjust="spacingAndGlyphs">10</text>
<text x="72.30" y="458.90" font-size="14" textLength="17.6" lengthAdjust="spacingAndGlyphs">−4</text>
<text x="99.75" y="465.80" class="t" textLength="19.9" lengthAdjust="spacingAndGlyphs">10</text>
<text x="120.05" y="458.90" font-size="14" textLength="17.6" lengthAdjust="spacingAndGlyphs">−3</text>
<text x="147.50" y="465.80" class="t" textLength="19.9" lengthAdjust="spacingAndGlyphs">10</text>
<text x="167.80" y="458.90" font-size="14" textLength="17.6" lengthAdjust="spacingAndGlyphs">−2</text>
<text x="195.25" y="465.80" class="t" textLength="19.9" lengthAdjust="spacingAndGlyphs">10</text>
<text x="215.55" y="458.90" font-size="14" textLength="17.6" lengthAdjust="spacingAndGlyphs">−1</text>
<text x="263.00" y="465.80" text-anchor="middle" class="t">1</text>
<text x="167.50" y="481.50" text-anchor="middle" class="ti">x</text>
<g transform="translate(31.80 369.80) rotate(-90)">
<text x="0" y="0" font-size="19.6" font-style="italic" textLength="10.2" lengthAdjust="spacingAndGlyphs">R</text>
<text x="12.2" y="-9.6" font-size="13.3" font-style="italic" textLength="6.6" lengthAdjust="spacingAndGlyphs">p</text>
<line x1="18.9" y1="-6.8" x2="28.0" y2="-19.8" stroke="#111" stroke-width="1.0"/>
<text x="28.6" y="-9.6" font-size="13.7" textLength="17.4" lengthAdjust="spacingAndGlyphs">Pb</text>
<text x="10.4" y="5.9" font-size="14.0" font-style="italic" textLength="7.6" lengthAdjust="spacingAndGlyphs">d</text>
<text x="18.2" y="7.7" font-size="9.4" textLength="8.8" lengthAdjust="spacingAndGlyphs">V</text>
</g>
<g clip-path="url(#c4)">
<path d="M328.00 303.00 C333.68 303.05 352.18 303.08 362.10 303.30 C372.02 303.52 379.87 303.72 387.50 304.30 C395.13 304.88 401.53 305.75 407.90 306.80 C414.27 307.85 420.62 309.45 425.70 310.60 C430.78 311.75 435.23 313.07 438.40 313.70 C441.57 314.33 442.58 314.92 444.70 314.40 C446.82 313.88 448.77 312.92 451.10 310.60 C453.43 308.28 456.17 303.47 458.70 300.50 C461.23 297.53 463.77 294.58 466.30 292.80 C468.83 291.02 471.35 290.13 473.90 289.80 C476.45 289.47 479.27 289.95 481.60 290.80 C483.93 291.65 486.13 293.92 487.90 294.90 C489.67 295.88 490.72 297.25 492.20 296.70 C493.68 296.15 495.18 294.78 496.80 291.60 C498.42 288.42 500.42 282.27 501.90 277.60 C503.38 272.93 504.52 267.97 505.70 263.60 C506.88 259.23 507.90 254.82 509.00 251.40 C510.10 247.98 511.23 243.10 512.30 243.10 C513.37 243.10 514.38 246.50 515.40 251.40 C516.42 256.30 517.80 267.88 518.40 272.50 C519.00 277.12 518.90 278.00 519.00 279.10 L519.00 392.90 C518.90 394.23 518.72 396.13 518.40 400.90 C518.08 405.67 517.65 414.35 517.10 421.50 C516.55 428.65 516.03 435.23 515.10 443.80 C514.17 452.37 512.68 469.72 511.50 472.90 C510.32 476.08 509.05 467.75 508.00 462.90 C506.95 458.05 506.00 449.43 505.20 443.80 C504.40 438.17 503.97 434.52 503.20 429.10 C502.43 423.68 501.67 417.87 500.60 411.30 C499.53 404.73 498.07 395.00 496.80 389.70 C495.53 384.40 494.48 381.70 493.00 379.50 C491.52 377.30 490.23 376.92 487.90 376.50 C485.57 376.08 481.90 376.83 479.00 377.00 C476.10 377.17 473.08 377.92 470.50 377.50 C467.92 377.08 465.50 375.52 463.50 374.50 C461.50 373.48 460.13 372.12 458.50 371.40 C456.87 370.68 455.28 370.20 453.70 370.20 C452.12 370.20 450.65 370.68 449.00 371.40 C447.35 372.12 446.42 373.12 443.80 374.50 C441.18 375.88 437.17 377.38 433.30 379.70 C429.43 382.02 425.27 385.67 420.60 388.40 C415.93 391.13 410.82 393.98 405.30 396.10 C399.78 398.22 394.70 399.83 387.50 401.10 C380.30 402.37 372.02 403.15 362.10 403.70 C352.18 404.25 333.68 404.28 328.00 404.40 Z" fill="#c0d0e8"/>
<path d="M328.00 303.40 C333.68 303.45 352.18 303.48 362.10 303.70 C372.02 303.92 379.87 304.12 387.50 304.70 C395.13 305.28 401.53 306.15 407.90 307.20 C414.27 308.25 420.62 309.85 425.70 311.00 C430.78 312.15 435.23 313.47 438.40 314.10 C441.57 314.73 442.58 315.32 444.70 314.80 C446.82 314.28 448.77 313.32 451.10 311.00 C453.43 308.68 456.17 303.87 458.70 300.90 C461.23 297.93 463.77 294.98 466.30 293.20 C468.83 291.42 471.35 290.53 473.90 290.20 C476.45 289.87 479.27 290.35 481.60 291.20 C483.93 292.05 486.13 294.32 487.90 295.30 C489.67 296.28 490.72 297.65 492.20 297.10 C493.68 296.55 495.18 295.18 496.80 292.00 C498.42 288.82 500.42 282.67 501.90 278.00 C503.38 273.33 504.52 268.37 505.70 264.00 C506.88 259.63 507.90 255.22 509.00 251.80 C510.10 248.38 511.23 243.50 512.30 243.50 C513.37 243.50 514.38 246.90 515.40 251.80 C516.42 256.70 517.80 268.28 518.40 272.90 C519.00 277.52 518.90 278.40 519.00 279.50 L519.00 392.50 C518.90 393.83 518.72 395.73 518.40 400.50 C518.08 405.27 517.65 413.95 517.10 421.10 C516.55 428.25 516.03 434.83 515.10 443.40 C514.17 451.97 512.68 469.32 511.50 472.50 C510.32 475.68 509.05 467.35 508.00 462.50 C506.95 457.65 506.00 449.03 505.20 443.40 C504.40 437.77 503.97 434.12 503.20 428.70 C502.43 423.28 501.67 417.47 500.60 410.90 C499.53 404.33 498.07 394.60 496.80 389.30 C495.53 384.00 494.48 381.30 493.00 379.10 C491.52 376.90 490.23 376.52 487.90 376.10 C485.57 375.68 481.90 376.43 479.00 376.60 C476.10 376.77 473.08 377.52 470.50 377.10 C467.92 376.68 465.50 375.12 463.50 374.10 C461.50 373.08 460.13 371.72 458.50 371.00 C456.87 370.28 455.28 369.80 453.70 369.80 C452.12 369.80 450.65 370.28 449.00 371.00 C447.35 371.72 446.42 372.72 443.80 374.10 C441.18 375.48 437.17 376.98 433.30 379.30 C429.43 381.62 425.27 385.27 420.60 388.00 C415.93 390.73 410.82 393.58 405.30 395.70 C399.78 397.82 394.70 399.43 387.50 400.70 C380.30 401.97 372.02 402.75 362.10 403.30 C352.18 403.85 333.68 403.88 328.00 404.00 Z" fill="#debe5c"/>
<path d="M328.00 303.90 C333.68 303.95 352.18 303.98 362.10 304.20 C372.02 304.42 379.87 304.62 387.50 305.20 C395.13 305.78 401.53 306.65 407.90 307.70 C414.27 308.75 420.62 310.35 425.70 311.50 C430.78 312.65 435.23 313.97 438.40 314.60 C441.57 315.23 442.58 315.82 444.70 315.30 C446.82 314.78 448.77 313.82 451.10 311.50 C453.43 309.18 456.17 304.37 458.70 301.40 C461.23 298.43 463.77 295.48 466.30 293.70 C468.83 291.92 471.35 291.03 473.90 290.70 C476.45 290.37 479.27 290.85 481.60 291.70 C483.93 292.55 486.13 294.82 487.90 295.80 C489.67 296.78 490.72 298.15 492.20 297.60 C493.68 297.05 495.18 295.68 496.80 292.50 C498.42 289.32 500.42 283.17 501.90 278.50 C503.38 273.83 504.52 268.87 505.70 264.50 C506.88 260.13 507.90 255.72 509.00 252.30 C510.10 248.88 511.23 244.00 512.30 244.00 C513.37 244.00 514.38 247.40 515.40 252.30 C516.42 257.20 517.80 268.78 518.40 273.40 C519.00 278.02 518.90 278.90 519.00 280.00 L519.00 392.00 C518.90 393.33 518.72 395.23 518.40 400.00 C518.08 404.77 517.65 413.45 517.10 420.60 C516.55 427.75 516.03 434.33 515.10 442.90 C514.17 451.47 512.68 468.82 511.50 472.00 C510.32 475.18 509.05 466.85 508.00 462.00 C506.95 457.15 506.00 448.53 505.20 442.90 C504.40 437.27 503.97 433.62 503.20 428.20 C502.43 422.78 501.67 416.97 500.60 410.40 C499.53 403.83 498.07 394.10 496.80 388.80 C495.53 383.50 494.48 380.80 493.00 378.60 C491.52 376.40 490.23 376.02 487.90 375.60 C485.57 375.18 481.90 375.93 479.00 376.10 C476.10 376.27 473.08 377.02 470.50 376.60 C467.92 376.18 465.50 374.62 463.50 373.60 C461.50 372.58 460.13 371.22 458.50 370.50 C456.87 369.78 455.28 369.30 453.70 369.30 C452.12 369.30 450.65 369.78 449.00 370.50 C447.35 371.22 446.42 372.22 443.80 373.60 C441.18 374.98 437.17 376.48 433.30 378.80 C429.43 381.12 425.27 384.77 420.60 387.50 C415.93 390.23 410.82 393.08 405.30 395.20 C399.78 397.32 394.70 398.93 387.50 400.20 C380.30 401.47 372.02 402.25 362.10 402.80 C352.18 403.35 333.68 403.38 328.00 403.50 Z" fill="#ec807c"/>
<line x1="328.00" y1="323.82" x2="519.00" y2="323.82" stroke="#1a1a1a" stroke-width="1.0" stroke-dasharray="1.0 3.8"/>
<path d="M328.00 303.90 C333.68 303.95 352.18 303.98 362.10 304.20 C372.02 304.42 379.87 304.62 387.50 305.20 C395.13 305.78 401.53 306.65 407.90 307.70 C414.27 308.75 420.62 310.35 425.70 311.50 C430.78 312.65 435.23 313.97 438.40 314.60 C441.57 315.23 442.58 315.82 444.70 315.30 C446.82 314.78 448.77 313.82 451.10 311.50 C453.43 309.18 456.17 304.37 458.70 301.40 C461.23 298.43 463.77 295.48 466.30 293.70 C468.83 291.92 471.35 291.03 473.90 290.70 C476.45 290.37 479.27 290.85 481.60 291.70 C483.93 292.55 486.13 294.82 487.90 295.80 C489.67 296.78 490.72 298.15 492.20 297.60 C493.68 297.05 495.18 295.68 496.80 292.50 C498.42 289.32 500.42 283.17 501.90 278.50 C503.38 273.83 504.52 268.87 505.70 264.50 C506.88 260.13 507.90 255.72 509.00 252.30 C510.10 248.88 511.23 244.00 512.30 244.00 C513.37 244.00 514.38 247.40 515.40 252.30 C516.42 257.20 517.80 268.78 518.40 273.40 C519.00 278.02 518.90 278.90 519.00 280.00" fill="none" stroke="#b8645c" stroke-width="0.60" stroke-opacity="0.70"/>
<path d="M328.00 403.50 C333.68 403.38 352.18 403.35 362.10 402.80 C372.02 402.25 380.30 401.47 387.50 400.20 C394.70 398.93 399.78 397.32 405.30 395.20 C410.82 393.08 415.93 390.23 420.60 387.50 C425.27 384.77 429.43 381.12 433.30 378.80 C437.17 376.48 441.18 374.98 443.80 373.60 C446.42 372.22 447.35 371.22 449.00 370.50 C450.65 369.78 452.12 369.30 453.70 369.30 C455.28 369.30 456.87 369.78 458.50 370.50 C460.13 371.22 461.50 372.58 463.50 373.60 C465.50 374.62 467.92 376.18 470.50 376.60 C473.08 377.02 476.10 376.27 479.00 376.10 C481.90 375.93 485.57 375.18 487.90 375.60 C490.23 376.02 491.52 376.40 493.00 378.60 C494.48 380.80 495.53 383.50 496.80 388.80 C498.07 394.10 499.53 403.83 500.60 410.40 C501.67 416.97 502.43 422.78 503.20 428.20 C503.97 433.62 504.40 437.27 505.20 442.90 C506.00 448.53 506.95 457.15 508.00 462.00 C509.05 466.85 510.32 475.18 511.50 472.00 C512.68 468.82 514.17 451.47 515.10 442.90 C516.03 434.33 516.55 427.75 517.10 420.60 C517.65 413.45 518.08 404.77 518.40 400.00 C518.72 395.23 518.90 393.33 519.00 392.00" fill="none" stroke="#b8645c" stroke-width="0.60" stroke-opacity="0.70"/>
<path d="M328.00 303.40 C333.68 303.45 352.18 303.48 362.10 303.70 C372.02 303.92 379.87 304.12 387.50 304.70 C395.13 305.28 401.53 306.15 407.90 307.20 C414.27 308.25 420.62 309.85 425.70 311.00 C430.78 312.15 435.23 313.47 438.40 314.10 C441.57 314.73 442.58 315.32 444.70 314.80 C446.82 314.28 448.77 313.32 451.10 311.00 C453.43 308.68 456.17 303.87 458.70 300.90 C461.23 297.93 463.77 294.98 466.30 293.20 C468.83 291.42 471.35 290.53 473.90 290.20 C476.45 289.87 479.27 290.35 481.60 291.20 C483.93 292.05 486.13 294.32 487.90 295.30 C489.67 296.28 490.72 297.65 492.20 297.10 C493.68 296.55 495.18 295.18 496.80 292.00 C498.42 288.82 500.42 282.67 501.90 278.00 C503.38 273.33 504.52 268.37 505.70 264.00 C506.88 259.63 507.90 255.22 509.00 251.80 C510.10 248.38 511.23 243.50 512.30 243.50 C513.37 243.50 514.38 246.90 515.40 251.80 C516.42 256.70 517.80 268.28 518.40 272.90 C519.00 277.52 518.90 278.40 519.00 279.50" fill="none" stroke="#a88438" stroke-width="0.90" stroke-opacity="1.00"/>
<path d="M328.00 404.00 C333.68 403.88 352.18 403.85 362.10 403.30 C372.02 402.75 380.30 401.97 387.50 400.70 C394.70 399.43 399.78 397.82 405.30 395.70 C410.82 393.58 415.93 390.73 420.60 388.00 C425.27 385.27 429.43 381.62 433.30 379.30 C437.17 376.98 441.18 375.48 443.80 374.10 C446.42 372.72 447.35 371.72 449.00 371.00 C450.65 370.28 452.12 369.80 453.70 369.80 C455.28 369.80 456.87 370.28 458.50 371.00 C460.13 371.72 461.50 373.08 463.50 374.10 C465.50 375.12 467.92 376.68 470.50 377.10 C473.08 377.52 476.10 376.77 479.00 376.60 C481.90 376.43 485.57 375.68 487.90 376.10 C490.23 376.52 491.52 376.90 493.00 379.10 C494.48 381.30 495.53 384.00 496.80 389.30 C498.07 394.60 499.53 404.33 500.60 410.90 C501.67 417.47 502.43 423.28 503.20 428.70 C503.97 434.12 504.40 437.77 505.20 443.40 C506.00 449.03 506.95 457.65 508.00 462.50 C509.05 467.35 510.32 475.68 511.50 472.50 C512.68 469.32 514.17 451.97 515.10 443.40 C516.03 434.83 516.55 428.25 517.10 421.10 C517.65 413.95 518.08 405.27 518.40 400.50 C518.72 395.73 518.90 393.83 519.00 392.50" fill="none" stroke="#a88438" stroke-width="0.90" stroke-opacity="1.00"/>
<path d="M328.00 303.00 C333.68 303.05 352.18 303.08 362.10 303.30 C372.02 303.52 379.87 303.72 387.50 304.30 C395.13 304.88 401.53 305.75 407.90 306.80 C414.27 307.85 420.62 309.45 425.70 310.60 C430.78 311.75 435.23 313.07 438.40 313.70 C441.57 314.33 442.58 314.92 444.70 314.40 C446.82 313.88 448.77 312.92 451.10 310.60 C453.43 308.28 456.17 303.47 458.70 300.50 C461.23 297.53 463.77 294.58 466.30 292.80 C468.83 291.02 471.35 290.13 473.90 289.80 C476.45 289.47 479.27 289.95 481.60 290.80 C483.93 291.65 486.13 293.92 487.90 294.90 C489.67 295.88 490.72 297.25 492.20 296.70 C493.68 296.15 495.18 294.78 496.80 291.60 C498.42 288.42 500.42 282.27 501.90 277.60 C503.38 272.93 504.52 267.97 505.70 263.60 C506.88 259.23 507.90 254.82 509.00 251.40 C510.10 247.98 511.23 243.10 512.30 243.10 C513.37 243.10 514.38 246.50 515.40 251.40 C516.42 256.30 517.80 267.88 518.40 272.50 C519.00 277.12 518.90 278.00 519.00 279.10" fill="none" stroke="#4646c8" stroke-width="0.80" stroke-opacity="0.85"/>
<path d="M328.00 404.40 C333.68 404.28 352.18 404.25 362.10 403.70 C372.02 403.15 380.30 402.37 387.50 401.10 C394.70 399.83 399.78 398.22 405.30 396.10 C410.82 393.98 415.93 391.13 420.60 388.40 C425.27 385.67 429.43 382.02 433.30 379.70 C437.17 377.38 441.18 375.88 443.80 374.50 C446.42 373.12 447.35 372.12 449.00 371.40 C450.65 370.68 452.12 370.20 453.70 370.20 C455.28 370.20 456.87 370.68 458.50 371.40 C460.13 372.12 461.50 373.48 463.50 374.50 C465.50 375.52 467.92 377.08 470.50 377.50 C473.08 377.92 476.10 377.17 479.00 377.00 C481.90 376.83 485.57 376.08 487.90 376.50 C490.23 376.92 491.52 377.30 493.00 379.50 C494.48 381.70 495.53 384.40 496.80 389.70 C498.07 395.00 499.53 404.73 500.60 411.30 C501.67 417.87 502.43 423.68 503.20 429.10 C503.97 434.52 504.40 438.17 505.20 443.80 C506.00 449.43 506.95 458.05 508.00 462.90 C509.05 467.75 510.32 476.08 511.50 472.90 C512.68 469.72 514.17 452.37 515.10 443.80 C516.03 435.23 516.55 428.65 517.10 421.50 C517.65 414.35 518.08 405.67 518.40 400.90 C518.72 396.13 518.90 394.23 519.00 392.90" fill="none" stroke="#4646c8" stroke-width="0.80" stroke-opacity="0.85"/>
<path d="M328.00 359.10 C333.68 359.05 352.18 359.02 362.10 358.80 C372.02 358.58 379.87 358.27 387.50 357.80 C395.13 357.33 401.53 356.85 407.90 356.00 C414.27 355.15 420.62 353.97 425.70 352.70 C430.78 351.43 434.60 349.97 438.40 348.40 C442.20 346.83 445.12 345.22 448.50 343.30 C451.88 341.38 455.73 338.47 458.70 336.90 C461.67 335.33 463.77 334.53 466.30 333.90 C468.83 333.27 471.35 332.93 473.90 333.10 C476.45 333.27 479.05 333.75 481.60 334.90 C484.15 336.05 486.67 337.53 489.20 340.00 C491.73 342.47 494.68 346.62 496.80 349.70 C498.92 352.78 500.20 355.55 501.90 358.50 C503.60 361.45 505.43 364.80 507.00 367.40 C508.57 370.00 510.03 374.33 511.30 374.10 C512.57 373.87 513.55 369.35 514.60 366.00 C515.65 362.65 516.90 356.97 517.60 354.00 C518.30 351.03 518.60 349.17 518.80 348.20" fill="none" stroke="#1c148c" stroke-width="1.95"/>
<path d="M328.00 357.90 C333.68 357.86 352.18 357.85 362.10 357.65 C372.02 357.45 379.87 357.14 387.50 356.68 C395.13 356.23 401.53 355.75 407.90 354.91 C414.27 354.07 420.62 352.90 425.70 351.64 C430.78 350.38 434.60 348.92 438.40 347.36 C442.20 345.79 445.12 344.18 448.50 342.27 C451.88 340.36 455.73 337.45 458.70 335.88 C461.67 334.32 463.77 333.50 466.30 332.89 C468.83 332.28 471.35 332.00 473.90 332.22 C476.45 332.45 479.05 333.04 481.60 334.27 C484.15 335.50 486.67 337.07 489.20 339.61 C491.73 342.16 494.68 346.39 496.80 349.51 C498.92 352.64 500.20 355.39 501.90 358.36 C503.60 361.32 505.43 364.69 507.00 367.30 C508.57 369.91 510.03 374.26 511.30 374.04 C512.57 373.81 513.55 369.30 514.60 365.96 C515.65 362.62 516.90 356.95 517.60 353.99 C518.30 351.03 518.60 349.16 518.80 348.20" fill="none" stroke="#7c5e10" stroke-width="1.85" stroke-opacity="0.82" stroke-dasharray="7 4" stroke-dashoffset="-3.5"/>
<path d="M328.00 357.90 C333.68 357.86 352.18 357.85 362.10 357.65 C372.02 357.45 379.87 357.14 387.50 356.68 C395.13 356.23 401.53 355.75 407.90 354.91 C414.27 354.07 420.62 352.90 425.70 351.64 C430.78 350.38 434.60 348.92 438.40 347.36 C442.20 345.79 445.12 344.18 448.50 342.27 C451.88 340.36 455.73 337.45 458.70 335.88 C461.67 334.32 463.77 333.50 466.30 332.89 C468.83 332.28 471.35 332.00 473.90 332.22 C476.45 332.45 479.05 333.04 481.60 334.27 C484.15 335.50 486.67 337.07 489.20 339.61 C491.73 342.16 494.68 346.39 496.80 349.51 C498.92 352.64 500.20 355.39 501.90 358.36 C503.60 361.32 505.43 364.69 507.00 367.30 C508.57 369.91 510.03 374.26 511.30 374.04 C512.57 373.81 513.55 369.30 514.60 365.96 C515.65 362.62 516.90 356.95 517.60 353.99 C518.30 351.03 518.60 349.16 518.80 348.20" fill="none" stroke="#8a3848" stroke-width="2.0" stroke-opacity="0.8" stroke-dasharray="1.3 8.9" stroke-dashoffset="-6"/>
</g>
<path d="M328.00 252.20v7.60 M328.00 443.20v-7.60 M342.37 252.20v5.00 M342.37 443.20v-5.00 M350.78 252.20v5.00 M350.78 443.20v-5.00 M356.75 252.20v5.00 M356.75 443.20v-5.00 M361.38 252.20v5.00 M361.38 443.20v-5.00 M365.16 252.20v5.00 M365.16 443.20v-5.00 M368.35 252.20v5.00 M368.35 443.20v-5.00 M371.12 252.20v5.00 M371.12 443.20v-5.00 M373.57 252.20v5.00 M373.57 443.20v-5.00 M375.75 252.20v7.60 M375.75 443.20v-7.60 M390.12 252.20v5.00 M390.12 443.20v-5.00 M398.53 252.20v5.00 M398.53 443.20v-5.00 M404.50 252.20v5.00 M404.50 443.20v-5.00 M409.13 252.20v5.00 M409.13 443.20v-5.00 M412.91 252.20v5.00 M412.91 443.20v-5.00 M416.10 252.20v5.00 M416.10 443.20v-5.00 M418.87 252.20v5.00 M418.87 443.20v-5.00 M421.32 252.20v5.00 M421.32 443.20v-5.00 M423.50 252.20v7.60 M423.50 443.20v-7.60 M437.87 252.20v5.00 M437.87 443.20v-5.00 M446.28 252.20v5.00 M446.28 443.20v-5.00 M452.25 252.20v5.00 M452.25 443.20v-5.00 M456.88 252.20v5.00 M456.88 443.20v-5.00 M460.66 252.20v5.00 M460.66 443.20v-5.00 M463.85 252.20v5.00 M463.85 443.20v-5.00 M466.62 252.20v5.00 M466.62 443.20v-5.00 M469.07 252.20v5.00 M469.07 443.20v-5.00 M471.25 252.20v7.60 M471.25 443.20v-7.60 M485.62 252.20v5.00 M485.62 443.20v-5.00 M494.03 252.20v5.00 M494.03 443.20v-5.00 M500.00 252.20v5.00 M500.00 443.20v-5.00 M504.63 252.20v5.00 M504.63 443.20v-5.00 M508.41 252.20v5.00 M508.41 443.20v-5.00 M511.60 252.20v5.00 M511.60 443.20v-5.00 M514.37 252.20v5.00 M514.37 443.20v-5.00 M516.82 252.20v5.00 M516.82 443.20v-5.00 M328.00 276.07h8 M519.00 276.07h-8 M328.00 299.95h8 M519.00 299.95h-8 M328.00 323.82h8 M519.00 323.82h-8 M328.00 347.70h8 M519.00 347.70h-8 M328.00 371.57h8 M519.00 371.57h-8 M328.00 395.45h8 M519.00 395.45h-8 M328.00 419.32h8 M519.00 419.32h-8" stroke="#000" stroke-opacity="0.28" stroke-width="0.7" fill="none"/>
<rect x="328.00" y="252.20" width="191.00" height="191.00" fill="none" stroke="#1a1a1a" stroke-width="1"/>
<text x="321.20" y="258.50" text-anchor="end" class="t">1.6</text>
<text x="321.20" y="282.38" text-anchor="end" class="t">1.4</text>
<text x="321.20" y="306.25" text-anchor="end" class="t">1.2</text>
<text x="321.20" y="330.12" text-anchor="end" class="t">1</text>
<text x="321.20" y="354.00" text-anchor="end" class="t">0.8</text>
<text x="321.20" y="377.88" text-anchor="end" class="t">0.6</text>
<text x="321.20" y="401.75" text-anchor="end" class="t">0.4</text>
<text x="321.20" y="425.62" text-anchor="end" class="t">0.2</text>
<text x="321.20" y="449.50" text-anchor="end" class="t">0</text>
<text x="308.00" y="465.80" class="t" textLength="19.9" lengthAdjust="spacingAndGlyphs">10</text>
<text x="328.30" y="458.90" font-size="14" textLength="17.6" lengthAdjust="spacingAndGlyphs">−4</text>
<text x="355.75" y="465.80" class="t" textLength="19.9" lengthAdjust="spacingAndGlyphs">10</text>
<text x="376.05" y="458.90" font-size="14" textLength="17.6" lengthAdjust="spacingAndGlyphs">−3</text>
<text x="403.50" y="465.80" class="t" textLength="19.9" lengthAdjust="spacingAndGlyphs">10</text>
<text x="423.80" y="458.90" font-size="14" textLength="17.6" lengthAdjust="spacingAndGlyphs">−2</text>
<text x="451.25" y="465.80" class="t" textLength="19.9" lengthAdjust="spacingAndGlyphs">10</text>
<text x="471.55" y="458.90" font-size="14" textLength="17.6" lengthAdjust="spacingAndGlyphs">−1</text>
<text x="519.00" y="465.80" text-anchor="middle" class="t">1</text>
<text x="423.50" y="481.50" text-anchor="middle" class="ti">x</text>
<g transform="translate(287.80 369.60) rotate(-90)">
<text x="0" y="0" font-size="19.6" font-style="italic" textLength="10.2" lengthAdjust="spacingAndGlyphs">R</text>
<text x="12.2" y="-9.6" font-size="13.3" font-style="italic" textLength="6.6" lengthAdjust="spacingAndGlyphs">p</text>
<line x1="18.9" y1="-6.8" x2="28.0" y2="-19.8" stroke="#111" stroke-width="1.0"/>
<text x="28.6" y="-9.6" font-size="13.7" textLength="17.4" lengthAdjust="spacingAndGlyphs">Pb</text>
<text x="11.3" y="8.0" font-size="14.5" font-style="italic" textLength="7.9" lengthAdjust="spacingAndGlyphs">d</text>
<line x1="13.6" y1="-3.3" x2="18.3" y2="-3.3" stroke="#111" stroke-width="0.8"/>
</g>
<g clip-path="url(#c5)">
<path d="M584.00 282.30 C589.68 282.38 608.18 282.47 618.10 282.80 C628.02 283.13 635.87 283.40 643.50 284.30 C651.13 285.20 657.53 286.63 663.90 288.20 C670.27 289.77 676.62 291.93 681.70 293.70 C686.78 295.47 691.10 297.65 694.40 298.80 C697.70 299.95 699.60 301.23 701.50 300.60 C703.40 299.97 704.45 297.63 705.80 295.00 C707.15 292.37 708.12 288.18 709.60 284.80 C711.08 281.42 712.80 277.23 714.70 274.70 C716.60 272.17 718.88 270.75 721.00 269.60 C723.12 268.45 725.27 268.22 727.40 267.80 C729.53 267.38 731.68 266.58 733.80 267.10 C735.92 267.62 737.98 268.78 740.10 270.90 C742.22 273.02 744.60 277.18 746.50 279.80 C748.40 282.42 749.82 286.40 751.50 286.60 C753.18 286.80 754.90 283.20 756.60 281.00 C758.30 278.80 760.00 275.30 761.70 273.40 C763.40 271.50 765.10 269.60 766.80 269.60 C768.50 269.60 770.77 274.88 771.90 273.40 C773.03 271.92 773.18 264.22 773.60 260.70 C774.02 257.18 774.17 255.75 774.40 252.30 C774.63 248.85 774.90 242.05 775.00 240.00 L775.00 370.00 C774.90 371.23 774.80 372.78 774.40 377.40 C774.00 382.02 773.32 389.67 772.60 397.70 C771.88 405.73 770.95 418.82 770.10 425.60 C769.25 432.38 768.27 437.12 767.50 438.40 C766.73 439.68 766.25 436.27 765.50 433.30 C764.75 430.33 764.27 427.60 763.00 420.60 C761.73 413.60 759.33 399.92 757.90 391.30 C756.47 382.68 755.67 374.83 754.40 368.90 C753.13 362.97 751.67 360.08 750.30 355.70 C748.93 351.32 747.57 346.42 746.20 342.60 C744.83 338.78 743.47 335.20 742.10 332.80 C740.73 330.40 739.50 329.08 738.00 328.20 C736.50 327.32 734.87 327.55 733.10 327.50 C731.33 327.45 729.17 327.43 727.40 327.90 C725.63 328.37 724.15 328.67 722.50 330.30 C720.85 331.93 719.15 334.55 717.50 337.70 C715.85 340.85 714.23 344.83 712.60 349.20 C710.97 353.57 709.20 358.98 707.70 363.90 C706.20 368.82 704.98 373.07 703.60 378.70 C702.22 384.33 700.93 390.72 699.40 397.70 C697.87 404.68 696.00 413.07 694.40 420.60 C692.80 428.13 691.37 435.33 689.80 442.90 C688.23 450.47 686.63 458.15 685.00 466.00 C683.37 473.85 684.17 476.83 680.00 490.00 C675.83 503.17 676.00 533.33 660.00 545.00 C644.00 556.67 596.67 557.50 584.00 560.00 Z" fill="#c0d0e8"/>
<path d="M584.00 303.90 C589.68 303.98 608.18 303.92 618.10 304.40 C628.02 304.88 635.87 305.62 643.50 306.80 C651.13 307.98 657.53 309.63 663.90 311.50 C670.27 313.37 677.68 316.55 681.70 318.00 C685.72 319.45 686.12 319.77 688.00 320.20 C689.88 320.63 691.08 321.77 693.00 320.60 C694.92 319.43 697.60 316.07 699.50 313.20 C701.40 310.33 702.90 307.40 704.40 303.40 C705.90 299.40 707.13 292.97 708.50 289.20 C709.87 285.43 711.15 282.57 712.60 280.80 C714.05 279.03 715.58 278.77 717.20 278.60 C718.82 278.43 720.38 279.85 722.30 279.80 C724.22 279.75 726.78 278.50 728.70 278.30 C730.62 278.10 732.12 278.05 733.80 278.60 C735.48 279.15 736.90 279.83 738.80 281.60 C740.70 283.37 743.37 287.08 745.20 289.20 C747.03 291.32 748.12 294.93 749.80 294.30 C751.48 293.67 753.32 288.78 755.30 285.40 C757.28 282.02 759.67 276.53 761.70 274.00 C763.73 271.47 765.80 270.42 767.50 270.20 C769.20 269.98 770.65 271.85 771.90 272.70 C773.15 273.55 774.48 274.87 775.00 275.30 L775.00 368.70 C774.90 369.83 774.80 371.83 774.40 375.50 C774.00 379.17 773.32 384.77 772.60 390.70 C771.88 396.63 770.98 405.92 770.10 411.10 C769.22 416.28 768.28 421.38 767.30 421.80 C766.32 422.22 765.35 418.35 764.20 413.60 C763.05 408.85 761.62 400.37 760.40 393.30 C759.18 386.23 758.17 377.35 756.90 371.20 C755.63 365.05 754.17 361.05 752.80 356.40 C751.43 351.75 750.07 347.40 748.70 343.30 C747.33 339.20 745.97 335.07 744.60 331.80 C743.23 328.53 741.73 325.38 740.50 323.70 C739.27 322.02 738.70 321.98 737.20 321.70 C735.70 321.42 733.42 321.67 731.50 322.00 C729.58 322.33 727.48 322.60 725.70 323.70 C723.92 324.80 722.43 326.28 720.80 328.60 C719.17 330.92 717.53 334.33 715.90 337.60 C714.27 340.87 712.63 344.52 711.00 348.20 C709.37 351.88 707.75 355.87 706.10 359.70 C704.45 363.53 702.63 367.70 701.10 371.20 C699.57 374.70 698.87 375.75 696.90 380.70 C694.93 385.65 691.83 393.50 689.30 400.90 C686.77 408.30 684.12 417.98 681.70 425.10 C679.28 432.22 677.17 437.33 674.80 443.60 C672.43 449.87 669.97 456.52 667.50 462.70 C665.03 468.88 664.58 472.70 660.00 480.70 C655.42 488.70 652.67 504.03 640.00 510.70 C627.33 517.37 593.33 519.03 584.00 520.70 Z" fill="#debe5c"/>
<path d="M584.00 308.00 C589.68 308.07 608.18 308.02 618.10 308.40 C628.02 308.78 635.87 309.35 643.50 310.30 C651.13 311.25 657.53 312.62 663.90 314.10 C670.27 315.58 677.68 318.08 681.70 319.20 C685.72 320.32 686.12 320.45 688.00 320.80 C689.88 321.15 691.08 322.45 693.00 321.30 C694.92 320.15 697.60 316.77 699.50 313.90 C701.40 311.03 702.90 308.10 704.40 304.10 C705.90 300.10 707.13 293.67 708.50 289.90 C709.87 286.13 711.15 283.27 712.60 281.50 C714.05 279.73 715.58 279.47 717.20 279.30 C718.82 279.13 720.38 280.55 722.30 280.50 C724.22 280.45 726.78 279.20 728.70 279.00 C730.62 278.80 732.12 278.75 733.80 279.30 C735.48 279.85 736.90 280.53 738.80 282.30 C740.70 284.07 743.37 287.78 745.20 289.90 C747.03 292.02 748.12 295.63 749.80 295.00 C751.48 294.37 753.32 289.48 755.30 286.10 C757.28 282.72 759.67 277.23 761.70 274.70 C763.73 272.17 765.80 271.12 767.50 270.90 C769.20 270.68 770.65 272.55 771.90 273.40 C773.15 274.25 774.48 275.57 775.00 276.00 L775.00 368.00 C774.90 369.13 774.80 371.13 774.40 374.80 C774.00 378.47 773.32 384.07 772.60 390.00 C771.88 395.93 770.98 405.22 770.10 410.40 C769.22 415.58 768.28 420.68 767.30 421.10 C766.32 421.52 765.35 417.65 764.20 412.90 C763.05 408.15 761.62 399.67 760.40 392.60 C759.18 385.53 758.17 376.65 756.90 370.50 C755.63 364.35 754.17 360.35 752.80 355.70 C751.43 351.05 750.07 346.70 748.70 342.60 C747.33 338.50 745.97 334.37 744.60 331.10 C743.23 327.83 741.73 324.68 740.50 323.00 C739.27 321.32 738.70 321.28 737.20 321.00 C735.70 320.72 733.42 320.97 731.50 321.30 C729.58 321.63 727.48 321.90 725.70 323.00 C723.92 324.10 722.43 325.58 720.80 327.90 C719.17 330.22 717.53 333.63 715.90 336.90 C714.27 340.17 712.63 343.82 711.00 347.50 C709.37 351.18 707.75 355.17 706.10 359.00 C704.45 362.83 702.63 367.00 701.10 370.50 C699.57 374.00 698.87 375.05 696.90 380.00 C694.93 384.95 691.83 392.80 689.30 400.20 C686.77 407.60 684.12 417.28 681.70 424.40 C679.28 431.52 677.17 436.63 674.80 442.90 C672.43 449.17 669.97 455.82 667.50 462.00 C665.03 468.18 664.58 472.00 660.00 480.00 C655.42 488.00 652.67 503.33 640.00 510.00 C627.33 516.67 593.33 518.33 584.00 520.00 Z" fill="#ec807c"/>
<line x1="584.00" y1="323.82" x2="775.00" y2="323.82" stroke="#1a1a1a" stroke-width="1.0" stroke-dasharray="1.0 3.8"/>
<path d="M584.00 308.00 C589.68 308.07 608.18 308.02 618.10 308.40 C628.02 308.78 635.87 309.35 643.50 310.30 C651.13 311.25 657.53 312.62 663.90 314.10 C670.27 315.58 677.68 318.08 681.70 319.20 C685.72 320.32 686.12 320.45 688.00 320.80 C689.88 321.15 691.08 322.45 693.00 321.30 C694.92 320.15 697.60 316.77 699.50 313.90 C701.40 311.03 702.90 308.10 704.40 304.10 C705.90 300.10 707.13 293.67 708.50 289.90 C709.87 286.13 711.15 283.27 712.60 281.50 C714.05 279.73 715.58 279.47 717.20 279.30 C718.82 279.13 720.38 280.55 722.30 280.50 C724.22 280.45 726.78 279.20 728.70 279.00 C730.62 278.80 732.12 278.75 733.80 279.30 C735.48 279.85 736.90 280.53 738.80 282.30 C740.70 284.07 743.37 287.78 745.20 289.90 C747.03 292.02 748.12 295.63 749.80 295.00 C751.48 294.37 753.32 289.48 755.30 286.10 C757.28 282.72 759.67 277.23 761.70 274.70 C763.73 272.17 765.80 271.12 767.50 270.90 C769.20 270.68 770.65 272.55 771.90 273.40 C773.15 274.25 774.48 275.57 775.00 276.00" fill="none" stroke="#b8645c" stroke-width="0.60" stroke-opacity="0.70"/>
<path d="M584.00 520.00 C593.33 518.33 627.33 516.67 640.00 510.00 C652.67 503.33 655.42 488.00 660.00 480.00 C664.58 472.00 665.03 468.18 667.50 462.00 C669.97 455.82 672.43 449.17 674.80 442.90 C677.17 436.63 679.28 431.52 681.70 424.40 C684.12 417.28 686.77 407.60 689.30 400.20 C691.83 392.80 694.93 384.95 696.90 380.00 C698.87 375.05 699.57 374.00 701.10 370.50 C702.63 367.00 704.45 362.83 706.10 359.00 C707.75 355.17 709.37 351.18 711.00 347.50 C712.63 343.82 714.27 340.17 715.90 336.90 C717.53 333.63 719.17 330.22 720.80 327.90 C722.43 325.58 723.92 324.10 725.70 323.00 C727.48 321.90 729.58 321.63 731.50 321.30 C733.42 320.97 735.70 320.72 737.20 321.00 C738.70 321.28 739.27 321.32 740.50 323.00 C741.73 324.68 743.23 327.83 744.60 331.10 C745.97 334.37 747.33 338.50 748.70 342.60 C750.07 346.70 751.43 351.05 752.80 355.70 C754.17 360.35 755.63 364.35 756.90 370.50 C758.17 376.65 759.18 385.53 760.40 392.60 C761.62 399.67 763.05 408.15 764.20 412.90 C765.35 417.65 766.32 421.52 767.30 421.10 C768.28 420.68 769.22 415.58 770.10 410.40 C770.98 405.22 771.88 395.93 772.60 390.00 C773.32 384.07 774.00 378.47 774.40 374.80 C774.80 371.13 774.90 369.13 775.00 368.00" fill="none" stroke="#b8645c" stroke-width="0.60" stroke-opacity="0.70"/>
<path d="M584.00 303.90 C589.68 303.98 608.18 303.92 618.10 304.40 C628.02 304.88 635.87 305.62 643.50 306.80 C651.13 307.98 657.53 309.63 663.90 311.50 C670.27 313.37 677.68 316.55 681.70 318.00 C685.72 319.45 686.12 319.77 688.00 320.20 C689.88 320.63 691.08 321.77 693.00 320.60 C694.92 319.43 697.60 316.07 699.50 313.20 C701.40 310.33 702.90 307.40 704.40 303.40 C705.90 299.40 707.13 292.97 708.50 289.20 C709.87 285.43 711.15 282.57 712.60 280.80 C714.05 279.03 715.58 278.77 717.20 278.60 C718.82 278.43 720.38 279.85 722.30 279.80 C724.22 279.75 726.78 278.50 728.70 278.30 C730.62 278.10 732.12 278.05 733.80 278.60 C735.48 279.15 736.90 279.83 738.80 281.60 C740.70 283.37 743.37 287.08 745.20 289.20 C747.03 291.32 748.12 294.93 749.80 294.30 C751.48 293.67 753.32 288.78 755.30 285.40 C757.28 282.02 759.67 276.53 761.70 274.00 C763.73 271.47 765.80 270.42 767.50 270.20 C769.20 269.98 770.65 271.85 771.90 272.70 C773.15 273.55 774.48 274.87 775.00 275.30" fill="none" stroke="#a88438" stroke-width="0.90" stroke-opacity="1.00"/>
<path d="M584.00 520.70 C593.33 519.03 627.33 517.37 640.00 510.70 C652.67 504.03 655.42 488.70 660.00 480.70 C664.58 472.70 665.03 468.88 667.50 462.70 C669.97 456.52 672.43 449.87 674.80 443.60 C677.17 437.33 679.28 432.22 681.70 425.10 C684.12 417.98 686.77 408.30 689.30 400.90 C691.83 393.50 694.93 385.65 696.90 380.70 C698.87 375.75 699.57 374.70 701.10 371.20 C702.63 367.70 704.45 363.53 706.10 359.70 C707.75 355.87 709.37 351.88 711.00 348.20 C712.63 344.52 714.27 340.87 715.90 337.60 C717.53 334.33 719.17 330.92 720.80 328.60 C722.43 326.28 723.92 324.80 725.70 323.70 C727.48 322.60 729.58 322.33 731.50 322.00 C733.42 321.67 735.70 321.42 737.20 321.70 C738.70 321.98 739.27 322.02 740.50 323.70 C741.73 325.38 743.23 328.53 744.60 331.80 C745.97 335.07 747.33 339.20 748.70 343.30 C750.07 347.40 751.43 351.75 752.80 356.40 C754.17 361.05 755.63 365.05 756.90 371.20 C758.17 377.35 759.18 386.23 760.40 393.30 C761.62 400.37 763.05 408.85 764.20 413.60 C765.35 418.35 766.32 422.22 767.30 421.80 C768.28 421.38 769.22 416.28 770.10 411.10 C770.98 405.92 771.88 396.63 772.60 390.70 C773.32 384.77 774.00 379.17 774.40 375.50 C774.80 371.83 774.90 369.83 775.00 368.70" fill="none" stroke="#a88438" stroke-width="0.90" stroke-opacity="1.00"/>
<path d="M584.00 282.30 C589.68 282.38 608.18 282.47 618.10 282.80 C628.02 283.13 635.87 283.40 643.50 284.30 C651.13 285.20 657.53 286.63 663.90 288.20 C670.27 289.77 676.62 291.93 681.70 293.70 C686.78 295.47 691.10 297.65 694.40 298.80 C697.70 299.95 699.60 301.23 701.50 300.60 C703.40 299.97 704.45 297.63 705.80 295.00 C707.15 292.37 708.12 288.18 709.60 284.80 C711.08 281.42 712.80 277.23 714.70 274.70 C716.60 272.17 718.88 270.75 721.00 269.60 C723.12 268.45 725.27 268.22 727.40 267.80 C729.53 267.38 731.68 266.58 733.80 267.10 C735.92 267.62 737.98 268.78 740.10 270.90 C742.22 273.02 744.60 277.18 746.50 279.80 C748.40 282.42 749.82 286.40 751.50 286.60 C753.18 286.80 754.90 283.20 756.60 281.00 C758.30 278.80 760.00 275.30 761.70 273.40 C763.40 271.50 765.10 269.60 766.80 269.60 C768.50 269.60 770.77 274.88 771.90 273.40 C773.03 271.92 773.18 264.22 773.60 260.70 C774.02 257.18 774.17 255.75 774.40 252.30 C774.63 248.85 774.90 242.05 775.00 240.00" fill="none" stroke="#4646c8" stroke-width="0.80" stroke-opacity="0.85"/>
<path d="M584.00 560.00 C596.67 557.50 644.00 556.67 660.00 545.00 C676.00 533.33 675.83 503.17 680.00 490.00 C684.17 476.83 683.37 473.85 685.00 466.00 C686.63 458.15 688.23 450.47 689.80 442.90 C691.37 435.33 692.80 428.13 694.40 420.60 C696.00 413.07 697.87 404.68 699.40 397.70 C700.93 390.72 702.22 384.33 703.60 378.70 C704.98 373.07 706.20 368.82 707.70 363.90 C709.20 358.98 710.97 353.57 712.60 349.20 C714.23 344.83 715.85 340.85 717.50 337.70 C719.15 334.55 720.85 331.93 722.50 330.30 C724.15 328.67 725.63 328.37 727.40 327.90 C729.17 327.43 731.33 327.45 733.10 327.50 C734.87 327.55 736.50 327.32 738.00 328.20 C739.50 329.08 740.73 330.40 742.10 332.80 C743.47 335.20 744.83 338.78 746.20 342.60 C747.57 346.42 748.93 351.32 750.30 355.70 C751.67 360.08 753.13 362.97 754.40 368.90 C755.67 374.83 756.47 382.68 757.90 391.30 C759.33 399.92 761.73 413.60 763.00 420.60 C764.27 427.60 764.75 430.33 765.50 433.30 C766.25 436.27 766.73 439.68 767.50 438.40 C768.27 437.12 769.25 432.38 770.10 425.60 C770.95 418.82 771.88 405.73 772.60 397.70 C773.32 389.67 774.00 382.02 774.40 377.40 C774.80 372.78 774.90 371.23 775.00 370.00" fill="none" stroke="#4646c8" stroke-width="0.80" stroke-opacity="0.85"/>
<path d="M584.00 405.80 C589.68 405.63 609.03 405.38 618.10 404.80 C627.17 404.22 632.05 403.57 638.40 402.30 C644.75 401.03 651.12 399.23 656.20 397.20 C661.28 395.17 665.08 392.77 668.90 390.10 C672.72 387.43 675.92 384.73 679.10 381.20 C682.28 377.67 685.42 373.15 688.00 368.90 C690.58 364.65 692.55 359.95 694.60 355.70 C696.65 351.45 698.38 347.90 700.30 343.40 C702.22 338.90 704.32 333.33 706.10 328.70 C707.88 324.07 709.37 319.57 711.00 315.60 C712.63 311.63 714.43 307.70 715.90 304.90 C717.37 302.10 718.30 300.23 719.80 298.80 C721.30 297.37 722.78 296.38 724.90 296.30 C727.02 296.22 729.90 297.03 732.50 298.30 C735.10 299.57 738.35 301.83 740.50 303.90 C742.65 305.97 743.77 307.93 745.40 310.70 C747.03 313.47 748.67 316.95 750.30 320.50 C751.93 324.05 753.55 328.45 755.20 332.00 C756.85 335.55 758.68 339.22 760.20 341.80 C761.72 344.38 763.17 346.27 764.30 347.50 C765.43 348.73 766.05 349.62 767.00 349.20 C767.95 348.78 769.08 347.05 770.00 345.00 C770.92 342.95 771.83 339.57 772.50 336.90 C773.17 334.23 773.62 330.93 774.00 329.00 C774.38 327.07 774.67 325.92 774.80 325.30" fill="none" stroke="#1c148c" stroke-width="1.95"/>
<path d="M584.00 390.10 C589.68 389.97 609.03 389.82 618.10 389.30 C627.17 388.78 632.05 388.13 638.40 387.00 C644.75 385.87 651.12 384.32 656.20 382.50 C661.28 380.68 665.23 378.23 668.90 376.10 C672.57 373.97 675.28 372.42 678.20 369.70 C681.12 366.98 683.67 363.35 686.40 359.80 C689.13 356.25 692.15 352.35 694.60 348.40 C697.05 344.45 699.05 340.07 701.10 336.10 C703.15 332.13 705.12 328.30 706.90 324.60 C708.68 320.90 710.17 317.32 711.80 313.90 C713.43 310.48 715.17 306.48 716.70 304.10 C718.23 301.72 719.53 300.52 721.00 299.60 C722.47 298.68 723.83 298.67 725.50 298.60 C727.17 298.53 729.25 298.72 731.00 299.20 C732.75 299.68 734.42 300.60 736.00 301.50 C737.58 302.40 738.93 302.97 740.50 304.60 C742.07 306.23 743.77 308.57 745.40 311.30 C747.03 314.03 748.67 317.50 750.30 321.00 C751.93 324.50 753.55 328.80 755.20 332.30 C756.85 335.80 758.68 339.45 760.20 342.00 C761.72 344.55 763.17 346.38 764.30 347.60 C765.43 348.82 766.05 349.73 767.00 349.30 C767.95 348.87 769.08 347.07 770.00 345.00 C770.92 342.93 771.83 339.57 772.50 336.90 C773.17 334.23 773.62 330.93 774.00 329.00 C774.38 327.07 774.67 325.92 774.80 325.30" fill="none" stroke="#7c5e10" stroke-width="1.85" stroke-opacity="0.82" stroke-dasharray="7 4" stroke-dashoffset="-3.5"/>
<path d="M584.00 390.10 C589.68 389.97 609.03 389.82 618.10 389.30 C627.17 388.78 632.05 388.13 638.40 387.00 C644.75 385.87 651.12 384.32 656.20 382.50 C661.28 380.68 665.23 378.23 668.90 376.10 C672.57 373.97 675.28 372.42 678.20 369.70 C681.12 366.98 683.67 363.35 686.40 359.80 C689.13 356.25 692.15 352.35 694.60 348.40 C697.05 344.45 699.05 340.07 701.10 336.10 C703.15 332.13 705.12 328.30 706.90 324.60 C708.68 320.90 710.17 317.32 711.80 313.90 C713.43 310.48 715.17 306.48 716.70 304.10 C718.23 301.72 719.53 300.52 721.00 299.60 C722.47 298.68 723.83 298.67 725.50 298.60 C727.17 298.53 729.25 298.72 731.00 299.20 C732.75 299.68 734.42 300.60 736.00 301.50 C737.58 302.40 738.93 302.97 740.50 304.60 C742.07 306.23 743.77 308.57 745.40 311.30 C747.03 314.03 748.67 317.50 750.30 321.00 C751.93 324.50 753.55 328.80 755.20 332.30 C756.85 335.80 758.68 339.45 760.20 342.00 C761.72 344.55 763.17 346.38 764.30 347.60 C765.43 348.82 766.05 349.73 767.00 349.30 C767.95 348.87 769.08 347.07 770.00 345.00 C770.92 342.93 771.83 339.57 772.50 336.90 C773.17 334.23 773.62 330.93 774.00 329.00 C774.38 327.07 774.67 325.92 774.80 325.30" fill="none" stroke="#8a3848" stroke-width="2.0" stroke-opacity="0.8" stroke-dasharray="1.3 8.9" stroke-dashoffset="-6"/>
</g>
<path d="M584.00 252.20v7.60 M584.00 443.20v-7.60 M598.37 252.20v5.00 M598.37 443.20v-5.00 M606.78 252.20v5.00 M606.78 443.20v-5.00 M612.75 252.20v5.00 M612.75 443.20v-5.00 M617.38 252.20v5.00 M617.38 443.20v-5.00 M621.16 252.20v5.00 M621.16 443.20v-5.00 M624.35 252.20v5.00 M624.35 443.20v-5.00 M627.12 252.20v5.00 M627.12 443.20v-5.00 M629.57 252.20v5.00 M629.57 443.20v-5.00 M631.75 252.20v7.60 M631.75 443.20v-7.60 M646.12 252.20v5.00 M646.12 443.20v-5.00 M654.53 252.20v5.00 M654.53 443.20v-5.00 M660.50 252.20v5.00 M660.50 443.20v-5.00 M665.13 252.20v5.00 M665.13 443.20v-5.00 M668.91 252.20v5.00 M668.91 443.20v-5.00 M672.10 252.20v5.00 M672.10 443.20v-5.00 M674.87 252.20v5.00 M674.87 443.20v-5.00 M677.32 252.20v5.00 M677.32 443.20v-5.00 M679.50 252.20v7.60 M679.50 443.20v-7.60 M693.87 252.20v5.00 M693.87 443.20v-5.00 M702.28 252.20v5.00 M702.28 443.20v-5.00 M708.25 252.20v5.00 M708.25 443.20v-5.00 M712.88 252.20v5.00 M712.88 443.20v-5.00 M716.66 252.20v5.00 M716.66 443.20v-5.00 M719.85 252.20v5.00 M719.85 443.20v-5.00 M722.62 252.20v5.00 M722.62 443.20v-5.00 M725.07 252.20v5.00 M725.07 443.20v-5.00 M727.25 252.20v7.60 M727.25 443.20v-7.60 M741.62 252.20v5.00 M741.62 443.20v-5.00 M750.03 252.20v5.00 M750.03 443.20v-5.00 M756.00 252.20v5.00 M756.00 443.20v-5.00 M760.63 252.20v5.00 M760.63 443.20v-5.00 M764.41 252.20v5.00 M764.41 443.20v-5.00 M767.60 252.20v5.00 M767.60 443.20v-5.00 M770.37 252.20v5.00 M770.37 443.20v-5.00 M772.82 252.20v5.00 M772.82 443.20v-5.00 M584.00 276.07h8 M775.00 276.07h-8 M584.00 299.95h8 M775.00 299.95h-8 M584.00 323.82h8 M775.00 323.82h-8 M584.00 347.70h8 M775.00 347.70h-8 M584.00 371.57h8 M775.00 371.57h-8 M584.00 395.45h8 M775.00 395.45h-8 M584.00 419.32h8 M775.00 419.32h-8" stroke="#000" stroke-opacity="0.28" stroke-width="0.7" fill="none"/>
<rect x="584.00" y="252.20" width="191.00" height="191.00" fill="none" stroke="#1a1a1a" stroke-width="1"/>
<text x="577.20" y="258.50" text-anchor="end" class="t">1.6</text>
<text x="577.20" y="282.38" text-anchor="end" class="t">1.4</text>
<text x="577.20" y="306.25" text-anchor="end" class="t">1.2</text>
<text x="577.20" y="330.12" text-anchor="end" class="t">1</text>
<text x="577.20" y="354.00" text-anchor="end" class="t">0.8</text>
<text x="577.20" y="377.88" text-anchor="end" class="t">0.6</text>
<text x="577.20" y="401.75" text-anchor="end" class="t">0.4</text>
<text x="577.20" y="425.62" text-anchor="end" class="t">0.2</text>
<text x="577.20" y="449.50" text-anchor="end" class="t">0</text>
<text x="564.00" y="465.80" class="t" textLength="19.9" lengthAdjust="spacingAndGlyphs">10</text>
<text x="584.30" y="458.90" font-size="14" textLength="17.6" lengthAdjust="spacingAndGlyphs">−4</text>
<text x="611.75" y="465.80" class="t" textLength="19.9" lengthAdjust="spacingAndGlyphs">10</text>
<text x="632.05" y="458.90" font-size="14" textLength="17.6" lengthAdjust="spacingAndGlyphs">−3</text>
<text x="659.50" y="465.80" class="t" textLength="19.9" lengthAdjust="spacingAndGlyphs">10</text>
<text x="679.80" y="458.90" font-size="14" textLength="17.6" lengthAdjust="spacingAndGlyphs">−2</text>
<text x="707.25" y="465.80" class="t" textLength="19.9" lengthAdjust="spacingAndGlyphs">10</text>
<text x="727.55" y="458.90" font-size="14" textLength="17.6" lengthAdjust="spacingAndGlyphs">−1</text>
<text x="775.00" y="465.80" text-anchor="middle" class="t">1</text>
<text x="679.50" y="481.50" text-anchor="middle" class="ti">x</text>
<g transform="translate(545.50 369.70) rotate(-90)">
<text x="0" y="0" font-size="19.6" font-style="italic" textLength="10.2" lengthAdjust="spacingAndGlyphs">R</text>
<text x="12.2" y="-9.6" font-size="13.3" font-style="italic" textLength="6.6" lengthAdjust="spacingAndGlyphs">p</text>
<line x1="18.9" y1="-6.8" x2="28.0" y2="-19.8" stroke="#111" stroke-width="1.0"/>
<text x="28.6" y="-9.6" font-size="13.7" textLength="17.4" lengthAdjust="spacingAndGlyphs">Pb</text>
<text x="12.0" y="2.6" font-size="13.3" font-style="italic" textLength="7.0" lengthAdjust="spacingAndGlyphs">g</text>
</g>
<rect x="339.2" y="25.2" width="10.6" height="10.4" fill="#c0d0e8"/>
<line x1="339.2" y1="30.2" x2="349.8" y2="30.2" stroke="#3a2690" stroke-width="1.5"/>
<text x="354.2" y="35" font-size="14.0" class="s" textLength="53.8" lengthAdjust="spacingAndGlyphs">EPPS16</text>
<rect x="339.1" y="265" width="11" height="10.6" fill="#ec807c"/>
<line x1="339.1" y1="270.3" x2="350.1" y2="270.3" stroke="#a05038" stroke-width="1.2" stroke-dasharray="1.2 3"/>
<rect x="339.1" y="278.8" width="11" height="10.6" fill="#e0b850"/>
<line x1="339.1" y1="284.1" x2="350.1" y2="284.1" stroke="#8a5a14" stroke-width="1.3" stroke-dasharray="5 2 1.2 2"/>
<text x="354.3" y="274.1" font-size="14.4" textLength="65.2" lengthAdjust="spacingAndGlyphs">rw, asym.,</text>
<text x="423.3" y="274.1" font-size="15" font-style="italic" textLength="11.4" lengthAdjust="spacingAndGlyphs">C</text>
<text x="354.3" y="288.3" font-size="14.4" textLength="65.2" lengthAdjust="spacingAndGlyphs">rw, asym.,</text>
<text x="423.3" y="288.3" font-size="15" font-style="italic" textLength="11.4" lengthAdjust="spacingAndGlyphs">C</text>
<text x="436.4" y="288.9" font-size="16.5" textLength="11.6" lengthAdjust="spacingAndGlyphs">+</text>
<text x="448.8" y="288.3" font-size="15" font-style="italic" textLength="8.6" lengthAdjust="spacingAndGlyphs">S</text>
<text x="458.4" y="283.2" font-size="10.4" textLength="30.6" lengthAdjust="spacingAndGlyphs">CT14</text>
<text x="602.2" y="273.6" font-size="14.6" font-style="italic" textLength="10.4" lengthAdjust="spacingAndGlyphs">Q</text>
<text x="613.2" y="268.9" font-size="8.8" textLength="5.2" lengthAdjust="spacingAndGlyphs">2</text>
<text x="626.4" y="273.6" font-size="13.4" textLength="10.1" lengthAdjust="spacingAndGlyphs">=</text>
<text x="642.4" y="273.6" font-size="14.2" textLength="25.8" lengthAdjust="spacingAndGlyphs">1.69</text>
<text x="675.3" y="273.6" font-size="14.2" textLength="28.4" lengthAdjust="spacingAndGlyphs">GeV</text>
<text x="705.2" y="268.9" font-size="8.8" textLength="5.4" lengthAdjust="spacingAndGlyphs">2</text>
</svg>
</body></html>
